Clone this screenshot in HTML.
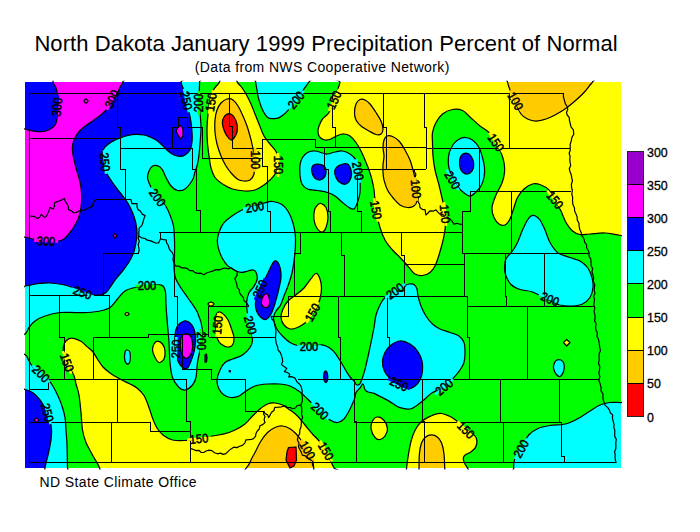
<!DOCTYPE html>
<html><head><meta charset="utf-8"><title>ND Precip</title>
<style>
html,body{margin:0;padding:0;background:#fff;}
body{width:700px;height:532px;overflow:hidden;font-family:"Liberation Sans",sans-serif;}
svg{display:block;}
text{font-family:"Liberation Sans",sans-serif;fill:#000;}
.f path{stroke:none;}
.ct path{fill:none;stroke:#000;stroke-width:1.25;stroke-linejoin:round;}
.ln path{fill:none;stroke:#000;stroke-width:1;stroke-linejoin:miter;}
.wg path{stroke-width:1.2;stroke-linejoin:round;}
.lb text{font-size:12.4px;text-anchor:middle;stroke:#000;stroke-width:0.55px;}
.lg text{font-size:12.4px;stroke:#000;stroke-width:0.3px;}
</style></head><body>
<svg width="700" height="532" viewBox="0 0 700 532">
<defs><clipPath id="mc"><rect x="25" y="82" width="596" height="386"/></clipPath><clipPath id="mc2"><rect x="24" y="80.8" width="598" height="388.6"/></clipPath></defs>
<rect x="0" y="0" width="700" height="532" fill="#ffffff"/>
<text x="34.4" y="51.2" font-size="22" letter-spacing="0.065">North Dakota January 1999 Precipitation Percent of Normal</text>
<text x="194.8" y="71.6" font-size="14" letter-spacing="0.37">(Data from NWS Cooperative Network)</text>
<text x="39.5" y="487" font-size="14" letter-spacing="0.4">ND State Climate Office</text>
<g clip-path="url(#mc)">
<rect x="25" y="82" width="596" height="386" fill="#00ff00"/>
<g class="f">
<path fill="#00ffff" d="M20.0,70.0C51.6,1.7 169.7,68.0 199.6,70.0C229.5,72.0 199.7,76.5 199.6,82.0C199.5,87.5 198.9,98.0 199.0,103.0C199.1,108.0 199.7,107.8 200.0,112.0C200.3,116.2 201.0,122.7 201.0,128.0C201.0,133.3 200.4,139.0 200.0,144.0C199.6,149.0 199.1,154.3 198.6,158.0C198.1,161.7 197.6,163.7 197.0,166.0C196.4,168.3 195.8,169.7 195.0,172.0C194.2,174.3 194.2,177.2 192.5,180.0C190.8,182.8 187.5,187.2 185.0,189.0C182.5,190.8 179.8,191.0 177.5,190.5C175.2,190.0 172.9,188.2 171.0,186.0C169.1,183.8 167.5,180.3 166.0,177.5C164.5,174.7 163.5,171.0 162.0,169.0C160.5,167.0 158.7,166.0 157.0,165.6C155.3,165.2 153.3,165.6 152.0,166.5C150.7,167.4 149.8,169.2 149.0,171.0C148.2,172.8 147.6,175.2 147.5,177.0C147.4,178.8 147.9,179.8 148.7,182.0C149.5,184.2 151.0,187.4 152.5,190.0C154.0,192.6 155.4,195.0 157.5,197.5C159.6,200.0 162.9,202.1 165.0,205.0C167.1,207.9 168.6,211.5 170.0,215.0C171.4,218.5 172.8,221.8 173.5,226.0C174.2,230.2 174.3,235.2 174.5,240.0C174.7,244.8 174.6,250.5 174.5,255.0C174.4,259.5 173.8,263.2 174.0,267.0C174.2,270.8 174.3,274.5 175.5,278.0C176.7,281.5 178.9,284.7 181.0,288.0C183.1,291.3 185.2,293.9 188.0,298.0C190.8,302.1 195.1,307.2 197.5,312.5C199.9,317.8 201.9,324.6 202.5,330.0C203.1,335.4 201.8,339.6 201.0,345.0C200.2,350.4 198.3,357.1 197.5,362.5C196.7,367.9 196.8,373.8 196.0,377.5C195.2,381.2 194.3,382.9 192.5,385.0C190.7,387.1 187.2,389.6 185.0,390.0C182.8,390.4 181.1,389.6 179.0,387.5C176.9,385.4 174.0,381.7 172.5,377.5C171.0,373.3 170.6,368.3 170.0,362.5C169.4,356.7 169.4,348.8 169.0,342.5C168.6,336.2 168.0,331.2 167.5,325.0C167.0,318.8 166.3,310.5 166.0,305.0C165.7,299.5 166.0,295.2 165.5,292.0C165.0,288.8 164.2,287.2 163.0,286.0C161.8,284.8 160.6,284.5 158.0,284.5C155.4,284.5 151.3,285.5 147.5,286.0C143.7,286.5 138.8,286.7 135.0,287.5C131.2,288.3 127.9,289.1 125.0,291.0C122.1,292.9 120.0,296.2 117.5,299.0C115.0,301.8 112.9,305.5 110.0,307.5C107.1,309.5 103.8,310.2 100.0,311.0C96.2,311.8 91.7,312.2 87.5,312.5C83.3,312.8 79.6,312.5 75.0,312.5C70.4,312.5 65.0,311.9 60.0,312.5C55.0,313.1 49.2,314.6 45.0,316.0C40.8,317.4 37.7,319.1 35.0,321.0C32.3,322.9 30.7,325.3 29.0,327.5C27.3,329.7 27.8,331.9 25.0,334.0C22.2,336.1 14.2,337.3 12.0,340.0C9.8,342.7 9.8,347.6 12.0,350.0C14.2,352.4 22.2,352.8 25.0,354.5C27.8,356.2 27.2,357.9 28.5,360.0C29.8,362.1 30.9,364.7 33.0,367.0C35.1,369.3 38.3,371.4 41.0,373.7C43.7,375.9 46.9,378.2 49.0,380.5C51.1,382.8 52.1,384.7 53.7,387.5C55.3,390.3 57.2,394.2 58.7,397.5C60.2,400.8 61.5,404.2 62.5,407.5C63.5,410.8 64.4,413.8 65.0,417.5C65.6,421.2 65.7,425.4 66.0,430.0C66.3,434.6 66.8,438.8 67.0,445.0C67.2,451.2 67.4,461.7 67.5,467.5C67.6,473.3 77.1,477.9 67.5,480.0C57.9,482.1 17.9,548.3 10.0,480.0C2.1,411.7 -11.6,138.3 20.0,70.0Z"/>
<path fill="#00ffff" d="M255.0,70.0C244.9,72.0 255.4,78.8 255.7,82.0C256.0,85.2 256.5,87.0 256.9,89.4C257.3,91.8 257.4,93.8 258.0,96.3C258.6,98.8 259.4,101.6 260.3,104.3C261.2,107.0 262.5,110.1 263.7,112.3C264.9,114.5 266.2,116.4 267.7,117.4C269.2,118.5 271.2,118.5 272.9,118.6C274.6,118.7 276.3,118.8 278.0,118.2C279.7,117.6 281.3,116.6 283.1,115.1C284.9,113.6 286.8,111.9 288.9,109.4C291.0,106.9 293.5,103.3 296.0,100.0C298.5,96.7 301.6,92.4 303.7,89.4C305.8,86.4 306.8,85.2 308.9,82.0C310.9,78.8 325.0,72.0 316.0,70.0C307.0,68.0 265.1,68.0 255.0,70.0Z"/>
<path fill="#00ffff" d="M300.0,165.0C300.4,162.1 301.2,159.6 302.5,157.5C303.8,155.4 305.4,153.6 307.5,152.5C309.6,151.4 312.5,150.9 315.0,151.0C317.5,151.1 320.4,152.5 322.5,153.0C324.6,153.5 325.4,154.2 327.5,154.0C329.6,153.8 332.5,152.5 335.0,152.0C337.5,151.5 340.0,150.7 342.5,151.0C345.0,151.3 347.8,152.5 350.0,154.0C352.2,155.5 354.5,157.2 356.0,160.0C357.5,162.8 358.3,167.7 359.0,171.0C359.7,174.3 359.8,176.4 360.0,180.0C360.2,183.6 360.4,188.8 360.0,192.5C359.6,196.2 358.5,199.8 357.5,202.5C356.5,205.2 355.4,208.2 354.0,209.0C352.6,209.8 350.9,208.6 349.0,207.5C347.1,206.4 344.8,204.4 342.5,202.5C340.2,200.6 337.5,197.7 335.0,196.0C332.5,194.3 330.4,193.4 327.5,192.5C324.6,191.6 320.8,191.1 317.5,190.5C314.2,189.9 310.1,190.1 307.5,189.0C304.9,187.9 303.2,186.3 302.0,184.0C300.8,181.7 300.3,178.2 300.0,175.0C299.7,171.8 299.6,167.9 300.0,165.0Z"/>
<path fill="#00ffff" d="M465.0,137.5C467.3,137.6 470.2,138.3 472.5,140.0C474.8,141.7 477.3,144.6 479.0,147.5C480.7,150.4 481.6,154.2 482.5,157.5C483.4,160.8 484.2,164.2 484.5,167.5C484.8,170.8 484.6,174.4 484.0,177.5C483.4,180.6 482.3,183.6 481.0,186.0C479.7,188.4 477.8,190.3 476.0,192.0C474.2,193.7 472.2,196.0 470.0,196.0C467.8,196.0 465.2,193.7 463.0,192.0C460.8,190.3 458.6,188.0 457.0,186.0C455.4,184.0 454.8,182.7 453.5,180.0C452.2,177.3 450.4,172.9 449.5,170.0C448.6,167.1 448.3,165.4 448.3,162.5C448.3,159.6 448.4,155.6 449.3,152.5C450.2,149.4 452.0,146.2 453.5,144.0C455.0,141.8 456.6,140.6 458.5,139.5C460.4,138.4 462.7,137.4 465.0,137.5Z"/>
<path fill="#00ffff" d="M272.5,201.5C275.5,201.8 279.3,202.8 282.0,204.5C284.7,206.2 286.7,208.9 288.5,212.0C290.3,215.1 291.9,219.2 293.0,223.0C294.1,226.8 294.9,230.8 295.3,235.0C295.7,239.2 295.5,243.7 295.3,248.0C295.1,252.3 294.6,256.8 294.0,261.0C293.4,265.2 292.9,269.1 292.0,273.0C291.1,276.9 289.8,280.7 288.5,284.5C287.2,288.3 285.3,292.6 284.0,296.0C282.7,299.4 281.9,302.5 280.6,305.0C279.3,307.5 277.2,309.0 276.0,311.0C274.8,313.0 273.8,314.9 273.5,317.0C273.2,319.1 273.8,321.3 274.5,323.5C275.2,325.7 276.2,327.9 277.5,330.0C278.8,332.1 280.4,333.9 282.5,336.0C284.6,338.1 287.5,340.9 290.0,342.5C292.5,344.1 294.3,344.8 297.5,345.5C300.7,346.2 305.2,346.6 309.0,346.5C312.8,346.4 317.2,345.1 320.0,345.0C322.8,344.9 324.0,345.2 326.0,346.0C328.0,346.8 330.2,348.3 332.0,349.8C333.8,351.3 335.0,353.0 336.5,355.0C338.0,357.0 339.5,359.5 341.0,362.0C342.5,364.5 344.0,367.5 345.5,370.0C347.0,372.5 348.6,375.2 350.0,377.0C351.4,378.8 353.0,379.8 354.0,381.0C355.0,382.2 355.3,383.7 356.0,384.4C356.7,385.1 357.3,385.1 358.0,385.0C358.7,384.9 359.3,384.6 360.0,383.6C360.7,382.6 361.3,381.0 362.0,379.0C362.7,377.0 363.6,374.4 364.4,371.6C365.2,368.9 365.8,365.8 366.6,362.5C367.4,359.2 368.3,355.3 369.0,352.0C369.7,348.7 370.2,346.6 371.0,342.5C371.8,338.4 373.2,332.1 374.0,327.5C374.8,322.9 375.0,318.8 376.0,315.0C377.0,311.2 378.5,307.9 380.0,305.0C381.5,302.1 382.5,299.8 385.0,297.5C387.5,295.2 392.0,292.6 395.0,291.5C398.0,290.4 401.3,291.9 403.0,291.0C404.7,290.1 404.0,287.2 405.0,286.0C406.0,284.8 407.5,284.2 409.0,284.0C410.5,283.8 412.7,283.7 414.0,284.5C415.3,285.3 416.3,287.1 417.0,289.0C417.7,290.9 417.3,293.2 418.0,296.0C418.7,298.8 419.7,302.7 421.0,306.0C422.3,309.3 424.1,313.0 426.0,316.0C427.9,319.0 430.2,321.8 432.5,324.0C434.8,326.2 437.1,327.6 440.0,329.0C442.9,330.4 446.8,331.3 450.0,332.5C453.2,333.7 456.7,334.3 459.0,336.0C461.3,337.7 463.0,339.8 464.0,342.5C465.0,345.2 465.0,349.2 465.0,352.5C465.0,355.8 464.8,359.6 464.0,362.5C463.2,365.4 461.9,367.2 460.0,370.0C458.1,372.8 455.2,376.1 452.5,379.0C449.8,381.9 447.3,385.2 444.0,387.5C440.7,389.8 435.7,390.6 432.5,392.5C429.3,394.4 427.5,396.9 425.0,399.0C422.5,401.1 420.0,403.3 417.5,405.0C415.0,406.7 412.9,408.6 410.0,409.0C407.1,409.4 403.0,408.7 400.0,407.7C397.0,406.7 394.3,404.4 392.0,403.0C389.7,401.6 388.0,400.5 386.0,399.4C384.0,398.3 382.0,397.4 380.0,396.4C378.0,395.4 376.0,394.1 374.0,393.4C372.0,392.7 369.5,392.6 368.0,392.0C366.5,391.4 365.8,390.9 365.0,389.6C364.2,388.3 363.8,384.3 363.0,384.0C362.2,383.7 361.2,386.6 360.0,388.0C358.8,389.4 356.9,390.8 356.0,392.6C355.1,394.4 355.3,396.6 354.6,398.6C353.9,400.6 353.0,402.5 352.0,404.7C351.0,406.9 349.8,409.6 348.5,412.0C347.2,414.4 345.8,417.2 344.0,419.0C342.2,420.8 339.8,422.3 337.5,422.5C335.2,422.7 332.9,421.9 330.0,420.0C327.1,418.1 323.8,414.5 320.0,411.0C316.2,407.5 310.8,402.2 307.5,399.0C304.2,395.8 302.9,394.2 300.0,392.0C297.1,389.8 293.3,387.3 290.0,386.0C286.7,384.7 283.8,384.3 280.0,384.0C276.2,383.7 271.7,383.7 267.5,384.0C263.3,384.3 258.6,384.8 255.0,386.0C251.4,387.2 248.7,389.3 246.0,391.0C243.3,392.7 241.5,394.9 239.0,396.0C236.5,397.1 233.5,397.7 231.0,397.5C228.5,397.3 226.0,396.4 224.0,395.0C222.0,393.6 220.2,391.5 219.0,389.0C217.8,386.5 216.8,383.2 217.0,380.0C217.2,376.8 218.7,372.9 220.0,370.0C221.3,367.1 222.9,364.3 225.0,362.5C227.1,360.7 229.6,360.2 232.5,359.0C235.4,357.8 239.6,356.9 242.5,355.0C245.4,353.1 248.3,350.0 250.0,347.5C251.7,345.0 252.5,343.8 252.5,340.0C252.5,336.2 250.9,330.0 250.0,325.0C249.1,320.0 247.5,314.1 247.0,310.0C246.5,305.9 246.5,303.5 246.8,300.6C247.1,297.7 247.9,295.0 249.0,292.7C250.1,290.4 252.2,289.1 253.5,287.0C254.8,284.9 256.5,282.2 257.0,280.0C257.5,277.8 257.1,275.2 256.5,273.5C255.9,271.8 254.9,270.4 253.5,270.0C252.1,269.6 250.1,270.6 248.0,271.0C245.9,271.4 243.3,272.6 241.0,272.4C238.7,272.2 236.5,271.1 234.3,270.0C232.1,268.9 229.7,267.7 227.6,265.6C225.5,263.6 223.5,260.5 222.0,257.7C220.5,254.9 219.3,251.7 218.5,248.7C217.7,245.7 217.2,242.7 217.4,239.7C217.6,236.7 218.6,233.4 219.7,230.6C220.8,227.8 221.9,225.1 224.0,222.7C226.1,220.3 229.0,218.1 232.0,216.0C235.0,213.9 238.2,211.7 242.0,210.0C245.8,208.3 251.0,207.2 254.7,206.0C258.4,204.8 261.0,203.8 264.0,203.0C267.0,202.2 269.5,201.2 272.5,201.5Z"/>
<path fill="#00ffff" d="M535.0,215.7C536.5,216.4 538.3,217.6 540.0,220.0C541.7,222.4 543.3,226.2 545.0,230.0C546.7,233.8 547.9,238.8 550.0,242.5C552.1,246.2 554.2,250.0 557.5,252.5C560.8,255.0 566.2,256.1 570.0,257.5C573.8,258.9 577.1,259.3 580.0,261.0C582.9,262.7 585.5,264.8 587.5,267.5C589.5,270.2 591.1,274.2 592.0,277.5C592.9,280.8 593.3,284.2 593.0,287.5C592.7,290.8 591.8,294.8 590.0,297.5C588.2,300.2 585.4,302.6 582.5,304.0C579.6,305.4 576.2,305.8 572.5,306.0C568.8,306.2 563.9,306.0 560.0,305.0C556.1,304.0 553.6,302.2 549.0,300.0C544.4,297.8 537.3,293.8 532.5,292.0C527.7,290.2 523.6,290.8 520.0,289.5C516.4,288.2 513.3,286.8 511.0,284.5C508.7,282.2 507.1,278.8 506.0,276.0C504.9,273.2 504.5,270.4 504.5,267.5C504.5,264.6 504.7,261.4 506.0,258.7C507.3,255.9 510.6,253.7 512.5,251.0C514.4,248.3 515.8,246.0 517.5,242.5C519.2,239.0 520.8,233.8 522.5,230.0C524.2,226.2 526.1,222.3 527.5,220.0C528.9,217.7 529.8,216.7 531.0,216.0C532.2,215.3 533.5,215.0 535.0,215.7Z"/>
<path fill="#00ffff" d="M513.7,480.0C493.5,478.1 513.6,472.0 513.7,468.7C513.8,465.4 513.3,463.3 514.5,460.0C515.7,456.7 518.6,452.9 521.0,448.7C523.4,444.5 526.0,438.3 528.7,435.0C531.5,431.7 534.0,430.3 537.5,428.7C541.0,427.1 545.8,426.2 550.0,425.5C554.2,424.8 559.2,425.0 562.5,424.5C565.8,424.0 567.1,423.7 570.0,422.5C572.9,421.3 576.7,419.4 580.0,417.5C583.3,415.6 586.7,413.1 590.0,411.0C593.3,408.9 596.7,406.4 600.0,405.0C603.3,403.6 606.5,402.9 610.0,402.5C613.5,402.1 616.8,402.5 621.0,402.5C625.2,402.5 632.7,389.6 635.0,402.5C637.3,415.4 655.2,467.1 635.0,480.0C614.8,492.9 533.9,481.9 513.7,480.0Z"/>
<path fill="#00ffff" d="M553.7,365.0C554.1,363.6 554.8,361.3 556.0,360.5C557.2,359.7 559.7,359.4 561.0,360.0C562.3,360.6 563.5,362.2 564.0,364.0C564.5,365.8 564.4,368.9 563.7,371.0C563.0,373.1 561.3,376.0 560.0,376.5C558.7,377.0 557.0,375.2 556.0,374.0C555.0,372.8 554.1,370.5 553.7,369.0C553.3,367.5 553.3,366.4 553.7,365.0Z"/>
<path fill="#00ffff" d="M125.0,352.0C125.4,350.2 126.7,349.9 127.5,350.0C128.3,350.1 129.6,350.7 130.0,352.5C130.4,354.3 130.3,359.1 130.0,361.0C129.7,362.9 128.8,364.0 128.0,364.0C127.2,364.0 125.5,363.0 125.0,361.0C124.5,359.0 124.6,353.8 125.0,352.0Z"/>
<path fill="#0000ff" d="M15.0,70.0C43.2,33.7 153.3,68.0 181.0,70.0C208.7,72.0 180.7,79.0 181.0,82.0C181.3,85.0 182.0,85.0 183.0,88.0C184.0,91.0 186.0,96.0 187.0,100.0C188.0,104.0 188.3,108.3 189.0,112.0C189.7,115.7 190.5,118.7 191.0,122.0C191.5,125.3 191.8,128.7 192.0,132.0C192.2,135.3 192.3,139.0 192.0,142.0C191.7,145.0 191.2,147.8 190.0,150.0C188.8,152.2 186.7,153.9 185.0,155.0C183.3,156.1 181.8,156.4 180.0,156.4C178.2,156.4 176.0,155.9 174.0,155.0C172.0,154.1 170.0,152.7 168.0,151.0C166.0,149.3 164.0,146.8 162.0,145.0C160.0,143.2 158.0,141.3 156.0,140.0C154.0,138.7 152.0,137.8 150.0,137.0C148.0,136.2 146.3,135.4 144.0,135.0C141.7,134.6 138.7,134.3 136.0,134.4C133.3,134.5 130.7,134.8 128.0,135.4C125.3,136.0 122.7,137.0 120.0,138.0C117.3,139.0 114.3,140.3 112.0,141.6C109.7,142.9 107.5,144.4 106.0,146.0C104.5,147.6 103.4,148.3 103.0,151.0C102.6,153.7 103.0,158.5 103.5,162.0C104.0,165.5 104.5,168.6 106.0,172.0C107.5,175.4 110.2,179.1 112.5,182.5C114.8,185.9 117.5,189.2 120.0,192.5C122.5,195.8 125.4,199.2 127.5,202.5C129.6,205.8 131.1,209.2 132.5,212.5C133.9,215.8 134.9,219.2 135.7,222.5C136.4,225.8 136.9,229.2 137.0,232.5C137.1,235.8 136.6,239.2 136.0,242.5C135.4,245.8 134.9,249.2 133.7,252.5C132.5,255.8 130.6,259.4 128.7,262.5C126.8,265.6 124.8,268.1 122.5,271.0C120.2,273.9 117.1,277.2 115.0,280.0C112.9,282.8 111.5,285.4 110.0,287.5C108.5,289.6 107.7,291.2 106.0,292.5C104.3,293.8 102.3,294.7 100.0,295.0C97.7,295.3 94.9,295.0 92.0,294.5C89.1,294.0 85.8,293.2 82.5,292.0C79.2,290.8 75.8,288.8 72.5,287.5C69.2,286.2 66.2,285.2 62.5,284.5C58.8,283.8 54.2,283.1 50.0,283.0C45.8,282.9 41.7,283.2 37.5,283.7C33.3,284.2 29.2,285.3 25.0,286.0C20.8,286.7 13.7,324.0 12.0,288.0C10.3,252.0 -13.2,106.3 15.0,70.0Z"/>
<path fill="#0000ff" d="M12.0,388.0C14.2,372.9 21.6,388.8 25.0,389.5C28.4,390.2 30.0,390.8 32.5,392.5C35.0,394.2 37.8,397.1 40.0,400.0C42.2,402.9 44.3,406.7 46.0,410.0C47.7,413.3 49.1,416.7 50.0,420.0C50.9,423.3 51.3,426.7 51.5,430.0C51.7,433.3 51.5,436.3 51.0,440.0C50.5,443.7 49.7,447.4 48.7,452.0C47.7,456.6 46.0,462.8 45.0,467.5C44.0,472.2 48.5,477.9 43.0,480.0C37.5,482.1 17.2,495.3 12.0,480.0C6.8,464.7 9.8,403.1 12.0,388.0Z"/>
<path fill="#0000ff" d="M312.5,166.0C313.4,164.6 315.6,164.0 317.5,164.0C319.4,164.0 322.6,164.6 324.0,166.0C325.4,167.4 326.2,170.3 326.0,172.5C325.8,174.7 324.2,177.9 322.5,179.0C320.8,180.1 317.8,180.1 316.0,179.0C314.2,177.9 312.6,174.7 312.0,172.5C311.4,170.3 311.6,167.4 312.5,166.0Z"/>
<path fill="#0000ff" d="M335.0,170.0C335.7,167.9 337.9,166.0 340.0,165.0C342.1,164.0 345.7,163.2 347.5,164.0C349.3,164.8 350.4,167.8 351.0,170.0C351.6,172.2 351.8,175.2 351.0,177.5C350.2,179.8 347.8,183.2 346.0,184.0C344.2,184.8 341.7,183.6 340.0,182.5C338.3,181.4 336.8,179.6 336.0,177.5C335.2,175.4 334.3,172.1 335.0,170.0Z"/>
<path fill="#0000ff" d="M461.0,156.0C462.1,154.4 464.3,153.0 466.0,153.0C467.7,153.0 469.7,154.2 471.0,156.0C472.3,157.8 473.5,161.5 473.7,164.0C473.9,166.5 473.3,169.3 472.0,171.0C470.7,172.7 467.8,174.2 466.0,174.0C464.2,173.8 462.1,171.9 461.0,170.0C459.9,168.1 459.5,164.8 459.5,162.5C459.5,160.2 459.9,157.6 461.0,156.0Z"/>
<path fill="#0000ff" d="M274.0,261.5C275.2,260.4 276.4,260.8 277.5,262.0C278.6,263.2 279.7,265.9 280.3,268.5C280.9,271.1 281.2,274.2 281.0,277.5C280.8,280.8 279.7,284.8 279.0,288.0C278.3,291.2 277.6,294.1 276.8,297.0C276.0,299.9 275.3,302.7 274.3,305.5C273.3,308.3 272.4,311.7 271.0,314.0C269.6,316.3 267.7,318.9 266.0,319.5C264.3,320.1 262.6,318.9 261.0,317.5C259.4,316.1 257.4,313.4 256.5,311.0C255.6,308.6 255.3,305.8 255.5,303.0C255.7,300.2 256.6,296.8 257.5,294.0C258.4,291.2 259.6,288.8 261.0,286.0C262.4,283.2 264.5,279.9 266.0,277.0C267.5,274.1 268.7,271.1 270.0,268.5C271.3,265.9 272.8,262.6 274.0,261.5Z"/>
<path fill="#0000ff" d="M184.0,321.0C182.0,321.6 179.0,323.7 177.5,326.0C176.0,328.3 175.4,331.4 175.0,335.0C174.6,338.6 174.6,343.3 175.0,347.5C175.4,351.7 176.2,356.7 177.5,360.0C178.8,363.3 180.8,366.2 182.5,367.5C184.2,368.8 186.1,369.1 187.5,368.0C188.9,366.9 189.8,364.0 191.0,361.0C192.2,358.0 193.8,353.7 194.5,350.0C195.2,346.3 195.6,342.5 195.5,339.0C195.4,335.5 195.0,331.8 194.0,329.0C193.0,326.2 191.2,323.8 189.5,322.5C187.8,321.2 186.0,320.4 184.0,321.0Z"/>
<path fill="#0000ff" d="M324.0,373.0C324.3,371.5 325.4,370.8 326.0,371.0C326.6,371.2 327.2,372.5 327.5,374.0C327.8,375.5 327.8,378.6 327.5,380.0C327.2,381.4 326.6,382.5 326.0,382.5C325.4,382.5 324.3,381.6 324.0,380.0C323.7,378.4 323.7,374.5 324.0,373.0Z"/>
<path fill="#0000ff" d="M400.0,341.0C403.2,340.8 407.1,342.3 410.0,344.0C412.9,345.7 415.5,348.2 417.5,351.0C419.5,353.8 421.2,357.7 422.0,361.0C422.8,364.3 422.8,367.8 422.5,371.0C422.2,374.2 421.2,377.5 420.0,380.0C418.8,382.5 416.8,384.6 415.0,386.0C413.2,387.4 411.7,388.7 409.0,388.5C406.3,388.3 402.3,386.8 399.0,385.0C395.7,383.2 391.5,380.0 389.0,377.5C386.5,375.0 385.1,372.8 384.0,370.0C382.9,367.2 382.3,363.9 382.5,361.0C382.7,358.1 383.6,355.2 385.0,352.5C386.4,349.8 388.5,346.9 391.0,345.0C393.5,343.1 396.8,341.2 400.0,341.0Z"/>
<path fill="#ff00ff" d="M12.0,70.0C30.5,42.5 104.5,68.1 123.0,70.0C141.5,71.9 123.5,78.8 123.0,81.6C122.5,84.4 120.8,85.3 120.0,87.0C119.2,88.7 119.3,89.7 118.0,92.0C116.7,94.3 113.7,98.3 112.0,101.0C110.3,103.7 109.7,105.8 108.0,108.0C106.3,110.2 104.3,112.0 102.0,114.0C99.7,116.0 97.0,117.8 94.0,120.0C91.0,122.2 86.7,124.8 84.0,127.0C81.3,129.2 79.7,130.8 78.0,133.0C76.3,135.2 74.9,137.5 74.0,140.0C73.1,142.5 72.5,145.0 72.4,148.0C72.3,151.0 73.0,154.7 73.6,158.0C74.2,161.3 74.9,164.0 76.0,168.0C77.1,172.0 79.0,177.5 80.0,182.0C81.0,186.5 81.5,190.8 81.7,195.0C81.9,199.2 81.5,203.8 81.0,207.5C80.5,211.2 79.7,214.6 78.7,217.5C77.7,220.4 76.5,222.5 75.0,225.0C73.5,227.5 71.8,230.2 70.0,232.5C68.2,234.8 65.8,237.6 64.0,239.0C62.2,240.4 62.0,240.6 59.0,241.0C56.0,241.4 50.4,241.8 46.0,241.5C41.6,241.2 36.0,239.8 32.5,239.0C29.0,238.2 28.4,237.7 25.0,237.0C21.6,236.3 14.2,262.8 12.0,235.0C9.8,207.2 -6.5,97.5 12.0,70.0Z"/>
<path fill="#0000ff" d="M12.0,70.0C18.8,60.5 46.2,68.1 53.0,70.0C59.8,71.9 52.5,78.6 53.0,81.6C53.5,84.6 55.2,85.6 56.0,88.0C56.8,90.4 57.4,92.3 57.6,96.0C57.9,99.7 57.7,105.8 57.5,110.0C57.3,114.2 57.0,118.5 56.6,121.0C56.2,123.5 55.8,123.8 55.0,125.0C54.2,126.2 53.5,127.0 52.0,128.0C50.5,129.0 48.3,130.4 46.0,131.0C43.7,131.6 40.7,131.7 38.0,131.6C35.3,131.5 32.2,130.8 30.0,130.4C27.8,130.0 28.0,129.6 25.0,129.0C22.0,128.4 14.2,136.8 12.0,127.0C9.8,117.2 5.2,79.5 12.0,70.0Z"/>
<path fill="#ff00ff" d="M181.0,125.5 L183.0,129.0 L183.0,136.0 L180.5,139.0 L178.0,135.0 L176.0,131.0 L178.0,127.5Z"/>
<path fill="#ff00ff" d="M264.0,295.0C264.9,294.2 266.6,293.2 267.5,294.0C268.4,294.8 269.2,298.0 269.5,300.0C269.8,302.0 269.8,304.8 269.0,306.0C268.2,307.2 266.2,307.8 265.0,307.5C263.8,307.2 262.0,305.4 261.5,304.0C261.0,302.6 261.6,300.5 262.0,299.0C262.4,297.5 263.1,295.8 264.0,295.0Z"/>
<path fill="#ff00ff" d="M184.0,334.0C185.5,333.6 188.6,334.0 190.0,335.5C191.4,337.0 192.2,340.4 192.5,343.0C192.8,345.6 192.6,348.7 192.0,351.0C191.4,353.3 190.2,355.8 189.0,357.0C187.8,358.2 186.2,358.7 185.0,358.0C183.8,357.3 182.3,355.2 181.5,353.0C180.7,350.8 180.4,347.5 180.3,345.0C180.2,342.5 180.4,339.8 181.0,338.0C181.6,336.2 182.5,334.4 184.0,334.0Z"/>
<path fill="#ff00ff" d="M84.0,101.0C84.0,100.3 85.3,99.0 86.0,99.0C86.7,99.0 88.0,100.3 88.0,101.0C88.0,101.7 86.7,103.0 86.0,103.0C85.3,103.0 84.0,101.7 84.0,101.0Z"/>
<path fill="#ff00ff" d="M113.0,235.7 L115.0,233.5 L117.0,235.7 L115.0,238.0Z"/>
<path fill="#ff00ff" d="M34.5,420.0C34.5,419.3 35.8,418.0 36.5,418.0C37.2,418.0 38.5,419.3 38.5,420.0C38.5,420.7 37.2,422.0 36.5,422.0C35.8,422.0 34.5,420.7 34.5,420.0Z"/>
<path fill="#ffff00" d="M71.4,338.0C73.9,338.0 77.9,339.6 80.5,341.0C83.1,342.4 84.9,344.8 87.0,346.6C89.1,348.4 91.3,349.9 93.0,352.0C94.7,354.1 95.7,356.5 97.4,359.0C99.1,361.5 100.9,364.7 103.0,367.0C105.1,369.3 107.2,371.0 110.0,373.0C112.8,375.0 116.7,377.2 120.0,379.0C123.3,380.8 127.2,382.5 130.0,384.0C132.8,385.5 134.7,386.1 137.0,388.0C139.3,389.9 142.0,392.2 144.0,395.5C146.0,398.8 147.6,403.8 149.0,407.5C150.4,411.2 151.2,414.6 152.5,418.0C153.8,421.4 155.2,425.2 157.0,428.0C158.8,430.8 160.4,433.0 163.0,435.0C165.6,437.0 168.8,439.1 172.5,440.0C176.2,440.9 180.6,440.7 185.0,440.5C189.4,440.3 194.4,439.4 199.0,438.7C203.6,437.9 208.2,436.8 212.5,436.0C216.8,435.2 221.2,434.7 225.0,433.7C228.8,432.7 231.7,431.6 235.0,430.0C238.3,428.4 242.1,426.3 245.0,424.0C247.9,421.7 250.0,418.5 252.5,416.0C255.0,413.5 257.5,411.0 260.0,409.0C262.5,407.0 265.0,405.0 267.5,404.0C270.0,403.0 272.5,402.8 275.0,403.0C277.5,403.2 280.0,403.8 282.5,405.0C285.0,406.2 287.5,408.2 290.0,410.0C292.5,411.8 295.0,413.5 297.5,416.0C300.0,418.5 302.5,422.0 305.0,425.0C307.5,428.0 310.0,431.2 312.5,434.0C315.0,436.8 317.8,439.2 320.0,442.0C322.2,444.8 324.3,448.0 326.0,451.0C327.7,454.0 328.7,457.2 330.0,460.0C331.3,462.8 332.7,464.7 334.0,468.0C335.3,471.3 377.0,478.0 338.0,480.0C299.0,482.0 139.7,481.8 100.0,480.0C60.3,478.2 101.2,473.2 100.0,469.0C98.8,464.8 94.8,459.4 92.5,455.0C90.2,450.6 87.7,446.7 86.0,442.5C84.3,438.3 83.3,435.0 82.5,430.0C81.7,425.0 81.6,418.3 81.0,412.5C80.4,406.7 79.8,399.8 79.0,395.0C78.2,390.2 76.9,387.3 76.0,384.0C75.1,380.7 75.2,378.6 73.7,375.0C72.2,371.4 68.7,366.2 67.0,362.4C65.3,358.6 64.1,354.6 63.5,352.0C62.9,349.4 63.1,348.4 63.5,346.6C63.9,344.8 64.5,342.4 65.8,341.0C67.1,339.6 69.0,338.0 71.4,338.0Z"/>
<path fill="#ffff00" d="M406.0,480.0C395.1,478.2 406.1,473.3 406.5,469.0C406.9,464.7 407.7,458.7 408.5,454.0C409.3,449.3 410.1,444.6 411.2,440.6C412.3,436.6 413.7,432.9 415.3,429.8C416.9,426.8 418.7,424.3 420.7,422.3C422.7,420.3 425.2,418.9 427.5,417.6C429.8,416.3 431.8,415.3 434.2,414.6C436.6,413.9 439.2,413.3 441.7,413.5C444.2,413.7 446.7,414.9 449.1,416.0C451.5,417.1 453.1,418.1 455.9,420.3C458.7,422.5 462.9,426.4 466.0,429.0C469.1,431.6 473.0,434.0 474.8,435.9C476.6,437.8 476.8,438.7 476.9,440.6C477.0,442.5 476.5,445.5 475.5,447.4C474.5,449.3 472.5,450.8 470.8,452.0C469.1,453.2 466.6,453.8 465.4,454.8C464.1,455.8 463.4,456.7 463.3,458.2C463.2,459.7 463.9,461.8 464.7,463.6C465.5,465.4 466.8,466.3 468.0,469.0C469.2,471.7 482.3,478.2 472.0,480.0C461.7,481.8 416.9,481.8 406.0,480.0Z"/>
<path fill="#ffff00" d="M377.0,417.0C378.9,416.8 381.9,418.1 383.7,420.0C385.4,421.9 387.3,426.0 387.5,428.7C387.7,431.4 386.2,434.2 385.0,436.0C383.8,437.8 381.7,439.2 380.0,439.5C378.3,439.8 376.5,439.3 375.0,437.5C373.5,435.7 371.4,431.4 371.0,428.7C370.6,425.9 371.5,422.9 372.5,421.0C373.5,419.1 375.1,417.2 377.0,417.0Z"/>
<path fill="#ffff00" d="M316.0,273.5C317.7,273.3 319.1,276.6 320.0,279.0C320.9,281.4 321.5,284.7 321.5,288.0C321.5,291.3 320.9,295.5 320.0,299.0C319.1,302.5 317.7,305.8 316.0,309.0C314.3,312.2 311.8,315.7 310.0,318.0C308.2,320.3 307.1,321.4 305.0,323.0C302.9,324.6 300.0,326.5 297.5,327.5C295.0,328.5 292.2,329.4 290.0,329.0C287.8,328.6 285.5,326.9 284.0,325.0C282.5,323.1 281.2,320.2 281.0,317.5C280.8,314.8 281.8,311.8 283.0,309.0C284.2,306.2 285.7,303.5 288.0,301.0C290.3,298.5 294.3,296.2 297.0,294.0C299.7,291.8 301.8,290.3 304.0,288.0C306.2,285.7 308.0,282.4 310.0,280.0C312.0,277.6 314.3,273.7 316.0,273.5Z"/>
<path fill="#ffff00" d="M224.0,70.0C221.8,72.0 220.9,79.2 219.5,82.0C218.1,84.8 216.7,85.4 215.5,87.0C214.3,88.6 213.4,89.3 212.5,91.5C211.6,93.7 210.8,96.2 210.0,100.0C209.2,103.8 208.5,109.3 208.0,114.0C207.5,118.7 207.1,123.3 207.0,128.0C206.9,132.7 207.1,137.3 207.4,142.0C207.7,146.7 208.4,151.7 209.0,156.0C209.6,160.3 210.0,164.4 211.0,168.0C212.0,171.6 213.1,174.8 215.0,177.5C216.9,180.2 219.6,182.1 222.5,184.0C225.4,185.9 228.8,187.8 232.5,189.0C236.2,190.2 241.2,190.8 245.0,191.0C248.8,191.2 252.1,190.8 255.0,190.0C257.9,189.2 260.0,187.7 262.5,186.0C265.0,184.3 267.9,182.0 270.0,180.0C272.1,178.0 273.7,176.5 275.0,174.0C276.3,171.5 277.5,168.0 278.0,165.0C278.5,162.0 278.5,158.5 278.0,156.0C277.5,153.5 276.3,152.0 275.0,150.0C273.7,148.0 271.8,146.3 270.0,144.0C268.2,141.7 265.8,139.3 264.0,136.0C262.2,132.7 260.5,127.7 259.0,124.0C257.5,120.3 256.3,117.3 255.0,114.0C253.7,110.7 252.5,107.3 251.0,104.0C249.5,100.7 247.6,96.8 246.0,94.0C244.4,91.2 243.0,89.1 241.5,87.0C240.0,84.9 238.4,84.4 237.0,81.6C235.6,78.8 235.2,71.9 233.0,70.0C230.8,68.1 226.2,68.0 224.0,70.0Z"/>
<path fill="#ffff00" d="M340.5,70.0C290.5,72.0 340.5,78.7 340.0,82.0C339.5,85.3 338.5,87.0 337.5,90.0C336.5,93.0 335.4,96.2 334.0,100.0C332.6,103.8 330.9,109.3 329.0,112.5C327.1,115.7 324.2,116.8 322.5,119.0C320.8,121.2 319.8,123.8 319.0,126.0C318.2,128.2 317.8,130.6 318.0,132.5C318.2,134.4 318.8,136.2 320.0,137.5C321.2,138.8 323.2,139.8 325.0,140.0C326.8,140.2 328.9,139.8 331.0,139.0C333.1,138.2 335.3,136.3 337.5,135.5C339.7,134.7 341.9,133.9 344.0,134.0C346.1,134.1 348.0,134.6 350.0,136.0C352.0,137.4 354.2,140.0 356.0,142.5C357.8,145.0 359.5,148.1 361.0,151.0C362.5,153.9 363.7,156.8 365.0,160.0C366.3,163.2 367.8,166.7 369.0,170.0C370.2,173.3 371.2,176.7 372.0,180.0C372.8,183.3 373.3,185.0 374.0,190.0C374.7,195.0 375.0,203.8 376.0,210.0C377.0,216.2 378.5,222.5 380.0,227.5C381.5,232.5 382.9,236.2 385.0,240.0C387.1,243.8 390.0,247.1 392.5,250.0C395.0,252.9 397.8,255.2 400.0,257.5C402.2,259.8 404.2,261.9 406.0,264.0C407.8,266.1 409.5,268.3 411.0,270.0C412.5,271.7 413.1,273.1 415.0,274.0C416.9,274.9 420.0,275.8 422.5,275.5C425.0,275.2 427.9,274.1 430.0,272.5C432.1,270.9 433.5,268.9 435.0,266.0C436.5,263.1 437.8,258.9 439.0,255.0C440.2,251.1 441.5,246.7 442.5,242.5C443.5,238.3 444.5,233.8 445.0,230.0C445.5,226.2 445.5,223.3 445.5,220.0C445.5,216.7 445.5,213.3 445.0,210.0C444.5,206.7 443.5,204.2 442.5,200.0C441.5,195.8 440.2,190.0 439.0,185.0C437.8,180.0 436.0,174.8 435.0,170.0C434.0,165.2 433.4,160.6 433.0,156.0C432.6,151.4 432.6,146.4 432.5,142.5C432.4,138.6 431.9,135.8 432.5,132.5C433.1,129.2 434.3,125.6 436.0,122.5C437.7,119.4 439.8,116.2 442.5,114.0C445.2,111.8 449.2,110.1 452.5,109.5C455.8,108.9 459.6,109.2 462.5,110.5C465.4,111.8 467.1,114.4 470.0,117.0C472.9,119.6 476.8,123.4 480.0,126.0C483.2,128.6 486.3,129.8 489.0,132.5C491.7,135.2 494.0,139.2 496.0,142.5C498.0,145.8 499.7,149.2 501.0,152.5C502.3,155.8 503.4,159.2 504.0,162.5C504.6,165.8 504.8,169.1 504.5,172.5C504.2,175.9 503.4,179.2 502.0,183.0C500.6,186.8 497.7,190.9 496.0,195.0C494.3,199.1 492.3,203.8 492.0,207.5C491.7,211.2 492.8,214.8 494.0,217.5C495.2,220.2 497.2,222.8 499.0,224.0C500.8,225.2 503.2,225.8 505.0,225.0C506.8,224.2 508.5,221.9 510.0,219.0C511.5,216.1 512.8,211.1 514.0,207.5C515.2,203.9 515.8,200.6 517.5,197.5C519.2,194.4 521.5,191.2 524.0,189.0C526.5,186.8 529.7,184.7 532.5,184.0C535.3,183.3 538.2,184.0 541.0,185.0C543.8,186.0 546.7,187.5 549.0,190.0C551.3,192.5 553.0,196.5 555.0,200.0C557.0,203.5 559.2,207.2 561.0,211.0C562.8,214.8 564.1,219.2 566.0,222.5C567.9,225.8 570.2,229.0 572.5,231.0C574.8,233.0 577.1,234.0 580.0,234.5C582.9,235.0 585.8,234.2 590.0,234.0C594.2,233.8 599.8,232.8 605.0,233.0C610.2,233.2 615.2,235.0 621.0,235.5C626.8,236.0 636.8,263.6 640.0,236.0C643.2,208.4 689.9,97.7 640.0,70.0C590.1,42.3 390.5,68.0 340.5,70.0Z"/>
<path fill="#ffff00" d="M321.0,203.5C322.4,203.9 324.8,205.2 326.0,207.5C327.2,209.8 328.0,214.2 328.0,217.5C328.0,220.8 326.9,225.1 326.0,227.5C325.1,229.9 323.9,231.8 322.5,232.0C321.1,232.2 318.9,231.0 317.5,229.0C316.1,227.0 314.5,223.2 314.0,220.0C313.5,216.8 313.9,212.5 314.5,210.0C315.1,207.5 316.4,206.1 317.5,205.0C318.6,203.9 319.6,203.1 321.0,203.5Z"/>
<path fill="#ffff00" d="M157.5,341.0C158.9,341.0 161.2,342.3 162.5,344.0C163.8,345.7 164.8,348.5 165.0,351.0C165.2,353.5 165.0,357.1 164.0,359.0C163.0,360.9 160.5,362.8 159.0,362.5C157.5,362.2 156.1,359.6 155.0,357.5C153.9,355.4 152.7,352.2 152.5,350.0C152.3,347.8 153.2,345.5 154.0,344.0C154.8,342.5 156.1,341.0 157.5,341.0Z"/>
<path fill="#ffff00" d="M220.0,312.0C221.9,312.7 225.7,316.4 227.5,319.0C229.3,321.6 229.9,324.4 231.0,327.5C232.1,330.6 233.8,334.6 234.0,337.5C234.2,340.4 233.6,343.4 232.5,345.0C231.4,346.6 229.4,347.2 227.5,347.0C225.6,346.8 222.7,345.3 221.0,344.0C219.3,342.7 218.3,341.0 217.5,339.0C216.7,337.0 216.4,334.8 216.0,332.0C215.6,329.2 215.0,324.8 215.0,322.0C215.0,319.2 215.2,316.7 216.0,315.0C216.8,313.3 218.1,311.3 220.0,312.0Z"/>
<path fill="#ffff00" d="M563.5,342.5 L566.7,339.5 L570.0,342.5 L566.7,346.0Z"/>
<path fill="#ffff00" d="M208.0,304.0C208.0,303.3 210.0,302.0 211.0,302.0C212.0,302.0 214.0,303.3 214.0,304.0C214.0,304.7 212.0,306.0 211.0,306.0C210.0,306.0 208.0,304.7 208.0,304.0Z"/>
<path fill="#ffff00" d="M125.0,314.0C125.0,313.5 126.3,312.5 127.0,312.5C127.7,312.5 129.0,313.5 129.0,314.0C129.0,314.5 127.7,315.5 127.0,315.5C126.3,315.5 125.0,314.5 125.0,314.0Z"/>
<path fill="#ffcc00" d="M246.0,480.0C235.3,477.1 248.5,467.1 250.0,462.5C251.5,457.9 253.2,456.1 255.0,452.5C256.8,448.9 258.9,444.3 261.0,441.0C263.1,437.7 265.2,434.8 267.5,432.5C269.8,430.2 272.5,428.6 275.0,427.5C277.5,426.4 280.0,425.8 282.5,426.0C285.0,426.2 287.8,427.4 290.0,428.7C292.2,430.0 294.2,431.8 296.0,433.7C297.8,435.6 299.1,437.3 301.0,440.0C302.9,442.7 305.6,446.7 307.5,450.0C309.4,453.3 311.5,456.9 312.5,460.0C313.5,463.1 313.4,465.4 313.7,468.7C313.9,472.0 325.3,478.1 314.0,480.0C302.7,481.9 256.7,482.9 246.0,480.0Z"/>
<path fill="#ffcc00" d="M419.0,480.0C414.7,478.2 418.9,473.3 419.0,469.0C419.1,464.7 419.0,458.3 419.4,454.0C419.8,449.7 420.4,446.1 421.4,443.3C422.4,440.5 423.7,438.6 425.4,437.2C427.1,435.8 429.5,434.9 431.5,434.9C433.5,434.9 435.9,435.8 437.6,437.2C439.3,438.6 440.6,440.5 441.7,443.3C442.8,446.1 443.5,449.7 444.0,454.0C444.5,458.3 444.6,464.7 444.8,469.0C445.0,473.3 449.3,478.2 445.0,480.0C440.7,481.8 423.3,481.8 419.0,480.0Z"/>
<path fill="#ffcc00" d="M227.0,99.0C225.0,99.5 222.7,101.2 221.0,103.0C219.3,104.8 218.0,107.2 217.0,110.0C216.0,112.8 215.3,116.3 215.0,120.0C214.7,123.7 214.7,128.0 215.0,132.0C215.3,136.0 216.0,140.0 217.0,144.0C218.0,148.0 219.5,152.3 221.0,156.0C222.5,159.7 224.2,163.0 226.0,166.0C227.8,169.0 230.0,171.8 232.0,174.0C234.0,176.2 236.0,178.3 238.0,179.5C240.0,180.7 242.0,180.9 244.0,181.0C246.0,181.1 248.3,181.2 250.0,180.0C251.7,178.8 253.2,177.3 254.0,174.0C254.8,170.7 255.3,165.0 255.0,160.0C254.7,155.0 252.8,148.0 252.0,144.0C251.2,140.0 250.8,139.0 250.0,136.0C249.2,133.0 248.2,129.3 247.0,126.0C245.8,122.7 244.5,119.3 243.0,116.0C241.5,112.7 239.7,108.7 238.0,106.0C236.3,103.3 234.8,101.2 233.0,100.0C231.2,98.8 229.0,98.5 227.0,99.0Z"/>
<path fill="#ffcc00" d="M360.0,99.5C358.5,100.2 356.9,101.8 356.0,104.0C355.1,106.2 354.5,109.8 354.5,112.5C354.5,115.2 354.9,117.8 356.0,120.0C357.1,122.2 358.8,124.2 361.0,126.0C363.2,127.8 366.5,129.6 369.0,131.0C371.5,132.4 374.0,134.0 376.0,134.5C378.0,135.0 379.8,134.9 381.0,134.0C382.2,133.1 383.0,131.2 383.0,129.0C383.0,126.8 382.2,123.8 381.0,121.0C379.8,118.2 377.8,115.3 376.0,112.5C374.2,109.7 371.8,106.1 370.0,104.0C368.2,101.9 366.7,100.8 365.0,100.0C363.3,99.2 361.5,98.8 360.0,99.5Z"/>
<path fill="#ffcc00" d="M387.0,136.0C385.6,136.6 384.7,138.1 384.0,140.0C383.3,141.9 383.0,144.8 383.0,147.5C383.0,150.2 384.0,153.1 384.0,156.0C384.0,158.9 383.2,162.3 383.0,165.0C382.8,167.7 382.8,169.5 383.0,172.0C383.2,174.5 383.2,177.0 384.0,180.0C384.8,183.0 385.8,186.8 387.5,190.0C389.2,193.2 391.9,196.5 394.0,199.0C396.1,201.5 397.8,203.6 400.0,205.0C402.2,206.4 405.2,207.3 407.5,207.5C409.8,207.7 412.4,207.1 414.0,206.0C415.6,204.9 416.5,203.7 417.0,201.0C417.5,198.3 417.3,193.8 417.0,190.0C416.7,186.2 415.8,181.7 415.0,178.0C414.2,174.3 413.3,171.0 412.5,168.0C411.7,165.0 411.2,163.0 410.0,160.0C408.8,157.0 406.8,153.2 405.0,150.0C403.2,146.8 401.1,143.2 399.0,141.0C396.9,138.8 394.5,137.3 392.5,136.5C390.5,135.7 388.4,135.4 387.0,136.0Z"/>
<path fill="#ffcc00" d="M507.0,70.0C492.1,72.0 506.8,78.2 507.5,82.0C508.2,85.8 509.7,89.0 511.0,92.5C512.3,96.0 513.8,99.4 515.5,103.0C517.2,106.6 519.0,111.3 521.0,114.0C523.0,116.7 525.0,117.8 527.5,119.0C530.0,120.2 532.9,121.0 536.0,121.0C539.1,121.0 542.8,120.0 546.0,119.0C549.2,118.0 551.8,116.7 555.0,115.0C558.2,113.3 561.7,111.3 565.0,109.0C568.3,106.7 571.8,103.8 575.0,101.0C578.2,98.2 581.5,95.2 584.0,92.5C586.5,89.8 588.6,86.8 590.0,85.0C591.4,83.2 591.3,84.5 592.5,82.0C593.7,79.5 611.2,72.0 597.0,70.0C582.8,68.0 521.9,68.0 507.0,70.0Z"/>
<path fill="#ff0000" d="M288.5,447.5 L296.0,447.0 L296.5,460.0 L294.0,466.0 L290.0,468.0 L286.0,460.0 L287.0,452.0Z"/>
<path fill="#ff0000" d="M229.0,113.5C230.7,113.5 232.7,115.2 234.0,117.0C235.3,118.8 236.5,121.5 237.0,124.0C237.5,126.5 237.5,129.7 237.0,132.0C236.5,134.3 235.0,136.7 234.0,138.0C233.0,139.3 232.2,140.3 231.0,140.0C229.8,139.7 228.2,137.7 227.0,136.0C225.8,134.3 224.8,132.2 224.0,130.0C223.2,127.8 222.4,125.2 222.4,123.0C222.4,120.8 222.9,118.6 224.0,117.0C225.1,115.4 227.3,113.5 229.0,113.5Z"/>
<path fill="#0000ff" d="M205.0,355.0 L206.5,354.0 L207.0,358.0 L206.5,362.0 L205.0,362.0Z"/>
<path fill="#0000ff" d="M229.3,370.6 L230.3,370.6 L230.3,371.8 L229.3,371.8Z"/>
</g>
</g>
<g clip-path="url(#mc2)">
<g class="ct">
<path d="M20.0,70.0C51.6,1.7 169.7,68.0 199.6,70.0C229.5,72.0 199.7,76.5 199.6,82.0C199.5,87.5 198.9,98.0 199.0,103.0C199.1,108.0 199.7,107.8 200.0,112.0C200.3,116.2 201.0,122.7 201.0,128.0C201.0,133.3 200.4,139.0 200.0,144.0C199.6,149.0 199.1,154.3 198.6,158.0C198.1,161.7 197.6,163.7 197.0,166.0C196.4,168.3 195.8,169.7 195.0,172.0C194.2,174.3 194.2,177.2 192.5,180.0C190.8,182.8 187.5,187.2 185.0,189.0C182.5,190.8 179.8,191.0 177.5,190.5C175.2,190.0 172.9,188.2 171.0,186.0C169.1,183.8 167.5,180.3 166.0,177.5C164.5,174.7 163.5,171.0 162.0,169.0C160.5,167.0 158.7,166.0 157.0,165.6C155.3,165.2 153.3,165.6 152.0,166.5C150.7,167.4 149.8,169.2 149.0,171.0C148.2,172.8 147.6,175.2 147.5,177.0C147.4,178.8 147.9,179.8 148.7,182.0C149.5,184.2 151.0,187.4 152.5,190.0C154.0,192.6 155.4,195.0 157.5,197.5C159.6,200.0 162.9,202.1 165.0,205.0C167.1,207.9 168.6,211.5 170.0,215.0C171.4,218.5 172.8,221.8 173.5,226.0C174.2,230.2 174.3,235.2 174.5,240.0C174.7,244.8 174.6,250.5 174.5,255.0C174.4,259.5 173.8,263.2 174.0,267.0C174.2,270.8 174.3,274.5 175.5,278.0C176.7,281.5 178.9,284.7 181.0,288.0C183.1,291.3 185.2,293.9 188.0,298.0C190.8,302.1 195.1,307.2 197.5,312.5C199.9,317.8 201.9,324.6 202.5,330.0C203.1,335.4 201.8,339.6 201.0,345.0C200.2,350.4 198.3,357.1 197.5,362.5C196.7,367.9 196.8,373.8 196.0,377.5C195.2,381.2 194.3,382.9 192.5,385.0C190.7,387.1 187.2,389.6 185.0,390.0C182.8,390.4 181.1,389.6 179.0,387.5C176.9,385.4 174.0,381.7 172.5,377.5C171.0,373.3 170.6,368.3 170.0,362.5C169.4,356.7 169.4,348.8 169.0,342.5C168.6,336.2 168.0,331.2 167.5,325.0C167.0,318.8 166.3,310.5 166.0,305.0C165.7,299.5 166.0,295.2 165.5,292.0C165.0,288.8 164.2,287.2 163.0,286.0C161.8,284.8 160.6,284.5 158.0,284.5C155.4,284.5 151.3,285.5 147.5,286.0C143.7,286.5 138.8,286.7 135.0,287.5C131.2,288.3 127.9,289.1 125.0,291.0C122.1,292.9 120.0,296.2 117.5,299.0C115.0,301.8 112.9,305.5 110.0,307.5C107.1,309.5 103.8,310.2 100.0,311.0C96.2,311.8 91.7,312.2 87.5,312.5C83.3,312.8 79.6,312.5 75.0,312.5C70.4,312.5 65.0,311.9 60.0,312.5C55.0,313.1 49.2,314.6 45.0,316.0C40.8,317.4 37.7,319.1 35.0,321.0C32.3,322.9 30.7,325.3 29.0,327.5C27.3,329.7 27.8,331.9 25.0,334.0C22.2,336.1 14.2,337.3 12.0,340.0C9.8,342.7 9.8,347.6 12.0,350.0C14.2,352.4 22.2,352.8 25.0,354.5C27.8,356.2 27.2,357.9 28.5,360.0C29.8,362.1 30.9,364.7 33.0,367.0C35.1,369.3 38.3,371.4 41.0,373.7C43.7,375.9 46.9,378.2 49.0,380.5C51.1,382.8 52.1,384.7 53.7,387.5C55.3,390.3 57.2,394.2 58.7,397.5C60.2,400.8 61.5,404.2 62.5,407.5C63.5,410.8 64.4,413.8 65.0,417.5C65.6,421.2 65.7,425.4 66.0,430.0C66.3,434.6 66.8,438.8 67.0,445.0C67.2,451.2 67.4,461.7 67.5,467.5C67.6,473.3 77.1,477.9 67.5,480.0C57.9,482.1 17.9,548.3 10.0,480.0C2.1,411.7 -11.6,138.3 20.0,70.0Z"/>
<path d="M255.0,70.0C244.9,72.0 255.4,78.8 255.7,82.0C256.0,85.2 256.5,87.0 256.9,89.4C257.3,91.8 257.4,93.8 258.0,96.3C258.6,98.8 259.4,101.6 260.3,104.3C261.2,107.0 262.5,110.1 263.7,112.3C264.9,114.5 266.2,116.4 267.7,117.4C269.2,118.5 271.2,118.5 272.9,118.6C274.6,118.7 276.3,118.8 278.0,118.2C279.7,117.6 281.3,116.6 283.1,115.1C284.9,113.6 286.8,111.9 288.9,109.4C291.0,106.9 293.5,103.3 296.0,100.0C298.5,96.7 301.6,92.4 303.7,89.4C305.8,86.4 306.8,85.2 308.9,82.0C310.9,78.8 325.0,72.0 316.0,70.0C307.0,68.0 265.1,68.0 255.0,70.0Z"/>
<path d="M300.0,165.0C300.4,162.1 301.2,159.6 302.5,157.5C303.8,155.4 305.4,153.6 307.5,152.5C309.6,151.4 312.5,150.9 315.0,151.0C317.5,151.1 320.4,152.5 322.5,153.0C324.6,153.5 325.4,154.2 327.5,154.0C329.6,153.8 332.5,152.5 335.0,152.0C337.5,151.5 340.0,150.7 342.5,151.0C345.0,151.3 347.8,152.5 350.0,154.0C352.2,155.5 354.5,157.2 356.0,160.0C357.5,162.8 358.3,167.7 359.0,171.0C359.7,174.3 359.8,176.4 360.0,180.0C360.2,183.6 360.4,188.8 360.0,192.5C359.6,196.2 358.5,199.8 357.5,202.5C356.5,205.2 355.4,208.2 354.0,209.0C352.6,209.8 350.9,208.6 349.0,207.5C347.1,206.4 344.8,204.4 342.5,202.5C340.2,200.6 337.5,197.7 335.0,196.0C332.5,194.3 330.4,193.4 327.5,192.5C324.6,191.6 320.8,191.1 317.5,190.5C314.2,189.9 310.1,190.1 307.5,189.0C304.9,187.9 303.2,186.3 302.0,184.0C300.8,181.7 300.3,178.2 300.0,175.0C299.7,171.8 299.6,167.9 300.0,165.0Z"/>
<path d="M465.0,137.5C467.3,137.6 470.2,138.3 472.5,140.0C474.8,141.7 477.3,144.6 479.0,147.5C480.7,150.4 481.6,154.2 482.5,157.5C483.4,160.8 484.2,164.2 484.5,167.5C484.8,170.8 484.6,174.4 484.0,177.5C483.4,180.6 482.3,183.6 481.0,186.0C479.7,188.4 477.8,190.3 476.0,192.0C474.2,193.7 472.2,196.0 470.0,196.0C467.8,196.0 465.2,193.7 463.0,192.0C460.8,190.3 458.6,188.0 457.0,186.0C455.4,184.0 454.8,182.7 453.5,180.0C452.2,177.3 450.4,172.9 449.5,170.0C448.6,167.1 448.3,165.4 448.3,162.5C448.3,159.6 448.4,155.6 449.3,152.5C450.2,149.4 452.0,146.2 453.5,144.0C455.0,141.8 456.6,140.6 458.5,139.5C460.4,138.4 462.7,137.4 465.0,137.5Z"/>
<path d="M272.5,201.5C275.5,201.8 279.3,202.8 282.0,204.5C284.7,206.2 286.7,208.9 288.5,212.0C290.3,215.1 291.9,219.2 293.0,223.0C294.1,226.8 294.9,230.8 295.3,235.0C295.7,239.2 295.5,243.7 295.3,248.0C295.1,252.3 294.6,256.8 294.0,261.0C293.4,265.2 292.9,269.1 292.0,273.0C291.1,276.9 289.8,280.7 288.5,284.5C287.2,288.3 285.3,292.6 284.0,296.0C282.7,299.4 281.9,302.5 280.6,305.0C279.3,307.5 277.2,309.0 276.0,311.0C274.8,313.0 273.8,314.9 273.5,317.0C273.2,319.1 273.8,321.3 274.5,323.5C275.2,325.7 276.2,327.9 277.5,330.0C278.8,332.1 280.4,333.9 282.5,336.0C284.6,338.1 287.5,340.9 290.0,342.5C292.5,344.1 294.3,344.8 297.5,345.5C300.7,346.2 305.2,346.6 309.0,346.5C312.8,346.4 317.2,345.1 320.0,345.0C322.8,344.9 324.0,345.2 326.0,346.0C328.0,346.8 330.2,348.3 332.0,349.8C333.8,351.3 335.0,353.0 336.5,355.0C338.0,357.0 339.5,359.5 341.0,362.0C342.5,364.5 344.0,367.5 345.5,370.0C347.0,372.5 348.6,375.2 350.0,377.0C351.4,378.8 353.0,379.8 354.0,381.0C355.0,382.2 355.3,383.7 356.0,384.4C356.7,385.1 357.3,385.1 358.0,385.0C358.7,384.9 359.3,384.6 360.0,383.6C360.7,382.6 361.3,381.0 362.0,379.0C362.7,377.0 363.6,374.4 364.4,371.6C365.2,368.9 365.8,365.8 366.6,362.5C367.4,359.2 368.3,355.3 369.0,352.0C369.7,348.7 370.2,346.6 371.0,342.5C371.8,338.4 373.2,332.1 374.0,327.5C374.8,322.9 375.0,318.8 376.0,315.0C377.0,311.2 378.5,307.9 380.0,305.0C381.5,302.1 382.5,299.8 385.0,297.5C387.5,295.2 392.0,292.6 395.0,291.5C398.0,290.4 401.3,291.9 403.0,291.0C404.7,290.1 404.0,287.2 405.0,286.0C406.0,284.8 407.5,284.2 409.0,284.0C410.5,283.8 412.7,283.7 414.0,284.5C415.3,285.3 416.3,287.1 417.0,289.0C417.7,290.9 417.3,293.2 418.0,296.0C418.7,298.8 419.7,302.7 421.0,306.0C422.3,309.3 424.1,313.0 426.0,316.0C427.9,319.0 430.2,321.8 432.5,324.0C434.8,326.2 437.1,327.6 440.0,329.0C442.9,330.4 446.8,331.3 450.0,332.5C453.2,333.7 456.7,334.3 459.0,336.0C461.3,337.7 463.0,339.8 464.0,342.5C465.0,345.2 465.0,349.2 465.0,352.5C465.0,355.8 464.8,359.6 464.0,362.5C463.2,365.4 461.9,367.2 460.0,370.0C458.1,372.8 455.2,376.1 452.5,379.0C449.8,381.9 447.3,385.2 444.0,387.5C440.7,389.8 435.7,390.6 432.5,392.5C429.3,394.4 427.5,396.9 425.0,399.0C422.5,401.1 420.0,403.3 417.5,405.0C415.0,406.7 412.9,408.6 410.0,409.0C407.1,409.4 403.0,408.7 400.0,407.7C397.0,406.7 394.3,404.4 392.0,403.0C389.7,401.6 388.0,400.5 386.0,399.4C384.0,398.3 382.0,397.4 380.0,396.4C378.0,395.4 376.0,394.1 374.0,393.4C372.0,392.7 369.5,392.6 368.0,392.0C366.5,391.4 365.8,390.9 365.0,389.6C364.2,388.3 363.8,384.3 363.0,384.0C362.2,383.7 361.2,386.6 360.0,388.0C358.8,389.4 356.9,390.8 356.0,392.6C355.1,394.4 355.3,396.6 354.6,398.6C353.9,400.6 353.0,402.5 352.0,404.7C351.0,406.9 349.8,409.6 348.5,412.0C347.2,414.4 345.8,417.2 344.0,419.0C342.2,420.8 339.8,422.3 337.5,422.5C335.2,422.7 332.9,421.9 330.0,420.0C327.1,418.1 323.8,414.5 320.0,411.0C316.2,407.5 310.8,402.2 307.5,399.0C304.2,395.8 302.9,394.2 300.0,392.0C297.1,389.8 293.3,387.3 290.0,386.0C286.7,384.7 283.8,384.3 280.0,384.0C276.2,383.7 271.7,383.7 267.5,384.0C263.3,384.3 258.6,384.8 255.0,386.0C251.4,387.2 248.7,389.3 246.0,391.0C243.3,392.7 241.5,394.9 239.0,396.0C236.5,397.1 233.5,397.7 231.0,397.5C228.5,397.3 226.0,396.4 224.0,395.0C222.0,393.6 220.2,391.5 219.0,389.0C217.8,386.5 216.8,383.2 217.0,380.0C217.2,376.8 218.7,372.9 220.0,370.0C221.3,367.1 222.9,364.3 225.0,362.5C227.1,360.7 229.6,360.2 232.5,359.0C235.4,357.8 239.6,356.9 242.5,355.0C245.4,353.1 248.3,350.0 250.0,347.5C251.7,345.0 252.5,343.8 252.5,340.0C252.5,336.2 250.9,330.0 250.0,325.0C249.1,320.0 247.5,314.1 247.0,310.0C246.5,305.9 246.5,303.5 246.8,300.6C247.1,297.7 247.9,295.0 249.0,292.7C250.1,290.4 252.2,289.1 253.5,287.0C254.8,284.9 256.5,282.2 257.0,280.0C257.5,277.8 257.1,275.2 256.5,273.5C255.9,271.8 254.9,270.4 253.5,270.0C252.1,269.6 250.1,270.6 248.0,271.0C245.9,271.4 243.3,272.6 241.0,272.4C238.7,272.2 236.5,271.1 234.3,270.0C232.1,268.9 229.7,267.7 227.6,265.6C225.5,263.6 223.5,260.5 222.0,257.7C220.5,254.9 219.3,251.7 218.5,248.7C217.7,245.7 217.2,242.7 217.4,239.7C217.6,236.7 218.6,233.4 219.7,230.6C220.8,227.8 221.9,225.1 224.0,222.7C226.1,220.3 229.0,218.1 232.0,216.0C235.0,213.9 238.2,211.7 242.0,210.0C245.8,208.3 251.0,207.2 254.7,206.0C258.4,204.8 261.0,203.8 264.0,203.0C267.0,202.2 269.5,201.2 272.5,201.5Z"/>
<path d="M535.0,215.7C536.5,216.4 538.3,217.6 540.0,220.0C541.7,222.4 543.3,226.2 545.0,230.0C546.7,233.8 547.9,238.8 550.0,242.5C552.1,246.2 554.2,250.0 557.5,252.5C560.8,255.0 566.2,256.1 570.0,257.5C573.8,258.9 577.1,259.3 580.0,261.0C582.9,262.7 585.5,264.8 587.5,267.5C589.5,270.2 591.1,274.2 592.0,277.5C592.9,280.8 593.3,284.2 593.0,287.5C592.7,290.8 591.8,294.8 590.0,297.5C588.2,300.2 585.4,302.6 582.5,304.0C579.6,305.4 576.2,305.8 572.5,306.0C568.8,306.2 563.9,306.0 560.0,305.0C556.1,304.0 553.6,302.2 549.0,300.0C544.4,297.8 537.3,293.8 532.5,292.0C527.7,290.2 523.6,290.8 520.0,289.5C516.4,288.2 513.3,286.8 511.0,284.5C508.7,282.2 507.1,278.8 506.0,276.0C504.9,273.2 504.5,270.4 504.5,267.5C504.5,264.6 504.7,261.4 506.0,258.7C507.3,255.9 510.6,253.7 512.5,251.0C514.4,248.3 515.8,246.0 517.5,242.5C519.2,239.0 520.8,233.8 522.5,230.0C524.2,226.2 526.1,222.3 527.5,220.0C528.9,217.7 529.8,216.7 531.0,216.0C532.2,215.3 533.5,215.0 535.0,215.7Z"/>
<path d="M513.7,480.0C493.5,478.1 513.6,472.0 513.7,468.7C513.8,465.4 513.3,463.3 514.5,460.0C515.7,456.7 518.6,452.9 521.0,448.7C523.4,444.5 526.0,438.3 528.7,435.0C531.5,431.7 534.0,430.3 537.5,428.7C541.0,427.1 545.8,426.2 550.0,425.5C554.2,424.8 559.2,425.0 562.5,424.5C565.8,424.0 567.1,423.7 570.0,422.5C572.9,421.3 576.7,419.4 580.0,417.5C583.3,415.6 586.7,413.1 590.0,411.0C593.3,408.9 596.7,406.4 600.0,405.0C603.3,403.6 606.5,402.9 610.0,402.5C613.5,402.1 616.8,402.5 621.0,402.5C625.2,402.5 632.7,389.6 635.0,402.5C637.3,415.4 655.2,467.1 635.0,480.0C614.8,492.9 533.9,481.9 513.7,480.0Z"/>
<path d="M553.7,365.0C554.1,363.6 554.8,361.3 556.0,360.5C557.2,359.7 559.7,359.4 561.0,360.0C562.3,360.6 563.5,362.2 564.0,364.0C564.5,365.8 564.4,368.9 563.7,371.0C563.0,373.1 561.3,376.0 560.0,376.5C558.7,377.0 557.0,375.2 556.0,374.0C555.0,372.8 554.1,370.5 553.7,369.0C553.3,367.5 553.3,366.4 553.7,365.0Z"/>
<path d="M125.0,352.0C125.4,350.2 126.7,349.9 127.5,350.0C128.3,350.1 129.6,350.7 130.0,352.5C130.4,354.3 130.3,359.1 130.0,361.0C129.7,362.9 128.8,364.0 128.0,364.0C127.2,364.0 125.5,363.0 125.0,361.0C124.5,359.0 124.6,353.8 125.0,352.0Z"/>
<path d="M15.0,70.0C43.2,33.7 153.3,68.0 181.0,70.0C208.7,72.0 180.7,79.0 181.0,82.0C181.3,85.0 182.0,85.0 183.0,88.0C184.0,91.0 186.0,96.0 187.0,100.0C188.0,104.0 188.3,108.3 189.0,112.0C189.7,115.7 190.5,118.7 191.0,122.0C191.5,125.3 191.8,128.7 192.0,132.0C192.2,135.3 192.3,139.0 192.0,142.0C191.7,145.0 191.2,147.8 190.0,150.0C188.8,152.2 186.7,153.9 185.0,155.0C183.3,156.1 181.8,156.4 180.0,156.4C178.2,156.4 176.0,155.9 174.0,155.0C172.0,154.1 170.0,152.7 168.0,151.0C166.0,149.3 164.0,146.8 162.0,145.0C160.0,143.2 158.0,141.3 156.0,140.0C154.0,138.7 152.0,137.8 150.0,137.0C148.0,136.2 146.3,135.4 144.0,135.0C141.7,134.6 138.7,134.3 136.0,134.4C133.3,134.5 130.7,134.8 128.0,135.4C125.3,136.0 122.7,137.0 120.0,138.0C117.3,139.0 114.3,140.3 112.0,141.6C109.7,142.9 107.5,144.4 106.0,146.0C104.5,147.6 103.4,148.3 103.0,151.0C102.6,153.7 103.0,158.5 103.5,162.0C104.0,165.5 104.5,168.6 106.0,172.0C107.5,175.4 110.2,179.1 112.5,182.5C114.8,185.9 117.5,189.2 120.0,192.5C122.5,195.8 125.4,199.2 127.5,202.5C129.6,205.8 131.1,209.2 132.5,212.5C133.9,215.8 134.9,219.2 135.7,222.5C136.4,225.8 136.9,229.2 137.0,232.5C137.1,235.8 136.6,239.2 136.0,242.5C135.4,245.8 134.9,249.2 133.7,252.5C132.5,255.8 130.6,259.4 128.7,262.5C126.8,265.6 124.8,268.1 122.5,271.0C120.2,273.9 117.1,277.2 115.0,280.0C112.9,282.8 111.5,285.4 110.0,287.5C108.5,289.6 107.7,291.2 106.0,292.5C104.3,293.8 102.3,294.7 100.0,295.0C97.7,295.3 94.9,295.0 92.0,294.5C89.1,294.0 85.8,293.2 82.5,292.0C79.2,290.8 75.8,288.8 72.5,287.5C69.2,286.2 66.2,285.2 62.5,284.5C58.8,283.8 54.2,283.1 50.0,283.0C45.8,282.9 41.7,283.2 37.5,283.7C33.3,284.2 29.2,285.3 25.0,286.0C20.8,286.7 13.7,324.0 12.0,288.0C10.3,252.0 -13.2,106.3 15.0,70.0Z"/>
<path d="M12.0,388.0C14.2,372.9 21.6,388.8 25.0,389.5C28.4,390.2 30.0,390.8 32.5,392.5C35.0,394.2 37.8,397.1 40.0,400.0C42.2,402.9 44.3,406.7 46.0,410.0C47.7,413.3 49.1,416.7 50.0,420.0C50.9,423.3 51.3,426.7 51.5,430.0C51.7,433.3 51.5,436.3 51.0,440.0C50.5,443.7 49.7,447.4 48.7,452.0C47.7,456.6 46.0,462.8 45.0,467.5C44.0,472.2 48.5,477.9 43.0,480.0C37.5,482.1 17.2,495.3 12.0,480.0C6.8,464.7 9.8,403.1 12.0,388.0Z"/>
<path d="M312.5,166.0C313.4,164.6 315.6,164.0 317.5,164.0C319.4,164.0 322.6,164.6 324.0,166.0C325.4,167.4 326.2,170.3 326.0,172.5C325.8,174.7 324.2,177.9 322.5,179.0C320.8,180.1 317.8,180.1 316.0,179.0C314.2,177.9 312.6,174.7 312.0,172.5C311.4,170.3 311.6,167.4 312.5,166.0Z"/>
<path d="M335.0,170.0C335.7,167.9 337.9,166.0 340.0,165.0C342.1,164.0 345.7,163.2 347.5,164.0C349.3,164.8 350.4,167.8 351.0,170.0C351.6,172.2 351.8,175.2 351.0,177.5C350.2,179.8 347.8,183.2 346.0,184.0C344.2,184.8 341.7,183.6 340.0,182.5C338.3,181.4 336.8,179.6 336.0,177.5C335.2,175.4 334.3,172.1 335.0,170.0Z"/>
<path d="M461.0,156.0C462.1,154.4 464.3,153.0 466.0,153.0C467.7,153.0 469.7,154.2 471.0,156.0C472.3,157.8 473.5,161.5 473.7,164.0C473.9,166.5 473.3,169.3 472.0,171.0C470.7,172.7 467.8,174.2 466.0,174.0C464.2,173.8 462.1,171.9 461.0,170.0C459.9,168.1 459.5,164.8 459.5,162.5C459.5,160.2 459.9,157.6 461.0,156.0Z"/>
<path d="M274.0,261.5C275.2,260.4 276.4,260.8 277.5,262.0C278.6,263.2 279.7,265.9 280.3,268.5C280.9,271.1 281.2,274.2 281.0,277.5C280.8,280.8 279.7,284.8 279.0,288.0C278.3,291.2 277.6,294.1 276.8,297.0C276.0,299.9 275.3,302.7 274.3,305.5C273.3,308.3 272.4,311.7 271.0,314.0C269.6,316.3 267.7,318.9 266.0,319.5C264.3,320.1 262.6,318.9 261.0,317.5C259.4,316.1 257.4,313.4 256.5,311.0C255.6,308.6 255.3,305.8 255.5,303.0C255.7,300.2 256.6,296.8 257.5,294.0C258.4,291.2 259.6,288.8 261.0,286.0C262.4,283.2 264.5,279.9 266.0,277.0C267.5,274.1 268.7,271.1 270.0,268.5C271.3,265.9 272.8,262.6 274.0,261.5Z"/>
<path d="M184.0,321.0C182.0,321.6 179.0,323.7 177.5,326.0C176.0,328.3 175.4,331.4 175.0,335.0C174.6,338.6 174.6,343.3 175.0,347.5C175.4,351.7 176.2,356.7 177.5,360.0C178.8,363.3 180.8,366.2 182.5,367.5C184.2,368.8 186.1,369.1 187.5,368.0C188.9,366.9 189.8,364.0 191.0,361.0C192.2,358.0 193.8,353.7 194.5,350.0C195.2,346.3 195.6,342.5 195.5,339.0C195.4,335.5 195.0,331.8 194.0,329.0C193.0,326.2 191.2,323.8 189.5,322.5C187.8,321.2 186.0,320.4 184.0,321.0Z"/>
<path d="M324.0,373.0C324.3,371.5 325.4,370.8 326.0,371.0C326.6,371.2 327.2,372.5 327.5,374.0C327.8,375.5 327.8,378.6 327.5,380.0C327.2,381.4 326.6,382.5 326.0,382.5C325.4,382.5 324.3,381.6 324.0,380.0C323.7,378.4 323.7,374.5 324.0,373.0Z"/>
<path d="M400.0,341.0C403.2,340.8 407.1,342.3 410.0,344.0C412.9,345.7 415.5,348.2 417.5,351.0C419.5,353.8 421.2,357.7 422.0,361.0C422.8,364.3 422.8,367.8 422.5,371.0C422.2,374.2 421.2,377.5 420.0,380.0C418.8,382.5 416.8,384.6 415.0,386.0C413.2,387.4 411.7,388.7 409.0,388.5C406.3,388.3 402.3,386.8 399.0,385.0C395.7,383.2 391.5,380.0 389.0,377.5C386.5,375.0 385.1,372.8 384.0,370.0C382.9,367.2 382.3,363.9 382.5,361.0C382.7,358.1 383.6,355.2 385.0,352.5C386.4,349.8 388.5,346.9 391.0,345.0C393.5,343.1 396.8,341.2 400.0,341.0Z"/>
<path d="M12.0,70.0C30.5,42.5 104.5,68.1 123.0,70.0C141.5,71.9 123.5,78.8 123.0,81.6C122.5,84.4 120.8,85.3 120.0,87.0C119.2,88.7 119.3,89.7 118.0,92.0C116.7,94.3 113.7,98.3 112.0,101.0C110.3,103.7 109.7,105.8 108.0,108.0C106.3,110.2 104.3,112.0 102.0,114.0C99.7,116.0 97.0,117.8 94.0,120.0C91.0,122.2 86.7,124.8 84.0,127.0C81.3,129.2 79.7,130.8 78.0,133.0C76.3,135.2 74.9,137.5 74.0,140.0C73.1,142.5 72.5,145.0 72.4,148.0C72.3,151.0 73.0,154.7 73.6,158.0C74.2,161.3 74.9,164.0 76.0,168.0C77.1,172.0 79.0,177.5 80.0,182.0C81.0,186.5 81.5,190.8 81.7,195.0C81.9,199.2 81.5,203.8 81.0,207.5C80.5,211.2 79.7,214.6 78.7,217.5C77.7,220.4 76.5,222.5 75.0,225.0C73.5,227.5 71.8,230.2 70.0,232.5C68.2,234.8 65.8,237.6 64.0,239.0C62.2,240.4 62.0,240.6 59.0,241.0C56.0,241.4 50.4,241.8 46.0,241.5C41.6,241.2 36.0,239.8 32.5,239.0C29.0,238.2 28.4,237.7 25.0,237.0C21.6,236.3 14.2,262.8 12.0,235.0C9.8,207.2 -6.5,97.5 12.0,70.0Z"/>
<path d="M12.0,70.0C18.8,60.5 46.2,68.1 53.0,70.0C59.8,71.9 52.5,78.6 53.0,81.6C53.5,84.6 55.2,85.6 56.0,88.0C56.8,90.4 57.4,92.3 57.6,96.0C57.9,99.7 57.7,105.8 57.5,110.0C57.3,114.2 57.0,118.5 56.6,121.0C56.2,123.5 55.8,123.8 55.0,125.0C54.2,126.2 53.5,127.0 52.0,128.0C50.5,129.0 48.3,130.4 46.0,131.0C43.7,131.6 40.7,131.7 38.0,131.6C35.3,131.5 32.2,130.8 30.0,130.4C27.8,130.0 28.0,129.6 25.0,129.0C22.0,128.4 14.2,136.8 12.0,127.0C9.8,117.2 5.2,79.5 12.0,70.0Z"/>
<path d="M181.0,125.5 L183.0,129.0 L183.0,136.0 L180.5,139.0 L178.0,135.0 L176.0,131.0 L178.0,127.5Z"/>
<path d="M264.0,295.0C264.9,294.2 266.6,293.2 267.5,294.0C268.4,294.8 269.2,298.0 269.5,300.0C269.8,302.0 269.8,304.8 269.0,306.0C268.2,307.2 266.2,307.8 265.0,307.5C263.8,307.2 262.0,305.4 261.5,304.0C261.0,302.6 261.6,300.5 262.0,299.0C262.4,297.5 263.1,295.8 264.0,295.0Z"/>
<path d="M184.0,334.0C185.5,333.6 188.6,334.0 190.0,335.5C191.4,337.0 192.2,340.4 192.5,343.0C192.8,345.6 192.6,348.7 192.0,351.0C191.4,353.3 190.2,355.8 189.0,357.0C187.8,358.2 186.2,358.7 185.0,358.0C183.8,357.3 182.3,355.2 181.5,353.0C180.7,350.8 180.4,347.5 180.3,345.0C180.2,342.5 180.4,339.8 181.0,338.0C181.6,336.2 182.5,334.4 184.0,334.0Z"/>
<path d="M84.0,101.0C84.0,100.3 85.3,99.0 86.0,99.0C86.7,99.0 88.0,100.3 88.0,101.0C88.0,101.7 86.7,103.0 86.0,103.0C85.3,103.0 84.0,101.7 84.0,101.0Z"/>
<path d="M113.0,235.7 L115.0,233.5 L117.0,235.7 L115.0,238.0Z"/>
<path d="M34.5,420.0C34.5,419.3 35.8,418.0 36.5,418.0C37.2,418.0 38.5,419.3 38.5,420.0C38.5,420.7 37.2,422.0 36.5,422.0C35.8,422.0 34.5,420.7 34.5,420.0Z"/>
<path d="M71.4,338.0C73.9,338.0 77.9,339.6 80.5,341.0C83.1,342.4 84.9,344.8 87.0,346.6C89.1,348.4 91.3,349.9 93.0,352.0C94.7,354.1 95.7,356.5 97.4,359.0C99.1,361.5 100.9,364.7 103.0,367.0C105.1,369.3 107.2,371.0 110.0,373.0C112.8,375.0 116.7,377.2 120.0,379.0C123.3,380.8 127.2,382.5 130.0,384.0C132.8,385.5 134.7,386.1 137.0,388.0C139.3,389.9 142.0,392.2 144.0,395.5C146.0,398.8 147.6,403.8 149.0,407.5C150.4,411.2 151.2,414.6 152.5,418.0C153.8,421.4 155.2,425.2 157.0,428.0C158.8,430.8 160.4,433.0 163.0,435.0C165.6,437.0 168.8,439.1 172.5,440.0C176.2,440.9 180.6,440.7 185.0,440.5C189.4,440.3 194.4,439.4 199.0,438.7C203.6,437.9 208.2,436.8 212.5,436.0C216.8,435.2 221.2,434.7 225.0,433.7C228.8,432.7 231.7,431.6 235.0,430.0C238.3,428.4 242.1,426.3 245.0,424.0C247.9,421.7 250.0,418.5 252.5,416.0C255.0,413.5 257.5,411.0 260.0,409.0C262.5,407.0 265.0,405.0 267.5,404.0C270.0,403.0 272.5,402.8 275.0,403.0C277.5,403.2 280.0,403.8 282.5,405.0C285.0,406.2 287.5,408.2 290.0,410.0C292.5,411.8 295.0,413.5 297.5,416.0C300.0,418.5 302.5,422.0 305.0,425.0C307.5,428.0 310.0,431.2 312.5,434.0C315.0,436.8 317.8,439.2 320.0,442.0C322.2,444.8 324.3,448.0 326.0,451.0C327.7,454.0 328.7,457.2 330.0,460.0C331.3,462.8 332.7,464.7 334.0,468.0C335.3,471.3 377.0,478.0 338.0,480.0C299.0,482.0 139.7,481.8 100.0,480.0C60.3,478.2 101.2,473.2 100.0,469.0C98.8,464.8 94.8,459.4 92.5,455.0C90.2,450.6 87.7,446.7 86.0,442.5C84.3,438.3 83.3,435.0 82.5,430.0C81.7,425.0 81.6,418.3 81.0,412.5C80.4,406.7 79.8,399.8 79.0,395.0C78.2,390.2 76.9,387.3 76.0,384.0C75.1,380.7 75.2,378.6 73.7,375.0C72.2,371.4 68.7,366.2 67.0,362.4C65.3,358.6 64.1,354.6 63.5,352.0C62.9,349.4 63.1,348.4 63.5,346.6C63.9,344.8 64.5,342.4 65.8,341.0C67.1,339.6 69.0,338.0 71.4,338.0Z"/>
<path d="M406.0,480.0C395.1,478.2 406.1,473.3 406.5,469.0C406.9,464.7 407.7,458.7 408.5,454.0C409.3,449.3 410.1,444.6 411.2,440.6C412.3,436.6 413.7,432.9 415.3,429.8C416.9,426.8 418.7,424.3 420.7,422.3C422.7,420.3 425.2,418.9 427.5,417.6C429.8,416.3 431.8,415.3 434.2,414.6C436.6,413.9 439.2,413.3 441.7,413.5C444.2,413.7 446.7,414.9 449.1,416.0C451.5,417.1 453.1,418.1 455.9,420.3C458.7,422.5 462.9,426.4 466.0,429.0C469.1,431.6 473.0,434.0 474.8,435.9C476.6,437.8 476.8,438.7 476.9,440.6C477.0,442.5 476.5,445.5 475.5,447.4C474.5,449.3 472.5,450.8 470.8,452.0C469.1,453.2 466.6,453.8 465.4,454.8C464.1,455.8 463.4,456.7 463.3,458.2C463.2,459.7 463.9,461.8 464.7,463.6C465.5,465.4 466.8,466.3 468.0,469.0C469.2,471.7 482.3,478.2 472.0,480.0C461.7,481.8 416.9,481.8 406.0,480.0Z"/>
<path d="M377.0,417.0C378.9,416.8 381.9,418.1 383.7,420.0C385.4,421.9 387.3,426.0 387.5,428.7C387.7,431.4 386.2,434.2 385.0,436.0C383.8,437.8 381.7,439.2 380.0,439.5C378.3,439.8 376.5,439.3 375.0,437.5C373.5,435.7 371.4,431.4 371.0,428.7C370.6,425.9 371.5,422.9 372.5,421.0C373.5,419.1 375.1,417.2 377.0,417.0Z"/>
<path d="M316.0,273.5C317.7,273.3 319.1,276.6 320.0,279.0C320.9,281.4 321.5,284.7 321.5,288.0C321.5,291.3 320.9,295.5 320.0,299.0C319.1,302.5 317.7,305.8 316.0,309.0C314.3,312.2 311.8,315.7 310.0,318.0C308.2,320.3 307.1,321.4 305.0,323.0C302.9,324.6 300.0,326.5 297.5,327.5C295.0,328.5 292.2,329.4 290.0,329.0C287.8,328.6 285.5,326.9 284.0,325.0C282.5,323.1 281.2,320.2 281.0,317.5C280.8,314.8 281.8,311.8 283.0,309.0C284.2,306.2 285.7,303.5 288.0,301.0C290.3,298.5 294.3,296.2 297.0,294.0C299.7,291.8 301.8,290.3 304.0,288.0C306.2,285.7 308.0,282.4 310.0,280.0C312.0,277.6 314.3,273.7 316.0,273.5Z"/>
<path d="M224.0,70.0C221.8,72.0 220.9,79.2 219.5,82.0C218.1,84.8 216.7,85.4 215.5,87.0C214.3,88.6 213.4,89.3 212.5,91.5C211.6,93.7 210.8,96.2 210.0,100.0C209.2,103.8 208.5,109.3 208.0,114.0C207.5,118.7 207.1,123.3 207.0,128.0C206.9,132.7 207.1,137.3 207.4,142.0C207.7,146.7 208.4,151.7 209.0,156.0C209.6,160.3 210.0,164.4 211.0,168.0C212.0,171.6 213.1,174.8 215.0,177.5C216.9,180.2 219.6,182.1 222.5,184.0C225.4,185.9 228.8,187.8 232.5,189.0C236.2,190.2 241.2,190.8 245.0,191.0C248.8,191.2 252.1,190.8 255.0,190.0C257.9,189.2 260.0,187.7 262.5,186.0C265.0,184.3 267.9,182.0 270.0,180.0C272.1,178.0 273.7,176.5 275.0,174.0C276.3,171.5 277.5,168.0 278.0,165.0C278.5,162.0 278.5,158.5 278.0,156.0C277.5,153.5 276.3,152.0 275.0,150.0C273.7,148.0 271.8,146.3 270.0,144.0C268.2,141.7 265.8,139.3 264.0,136.0C262.2,132.7 260.5,127.7 259.0,124.0C257.5,120.3 256.3,117.3 255.0,114.0C253.7,110.7 252.5,107.3 251.0,104.0C249.5,100.7 247.6,96.8 246.0,94.0C244.4,91.2 243.0,89.1 241.5,87.0C240.0,84.9 238.4,84.4 237.0,81.6C235.6,78.8 235.2,71.9 233.0,70.0C230.8,68.1 226.2,68.0 224.0,70.0Z"/>
<path d="M340.5,70.0C290.5,72.0 340.5,78.7 340.0,82.0C339.5,85.3 338.5,87.0 337.5,90.0C336.5,93.0 335.4,96.2 334.0,100.0C332.6,103.8 330.9,109.3 329.0,112.5C327.1,115.7 324.2,116.8 322.5,119.0C320.8,121.2 319.8,123.8 319.0,126.0C318.2,128.2 317.8,130.6 318.0,132.5C318.2,134.4 318.8,136.2 320.0,137.5C321.2,138.8 323.2,139.8 325.0,140.0C326.8,140.2 328.9,139.8 331.0,139.0C333.1,138.2 335.3,136.3 337.5,135.5C339.7,134.7 341.9,133.9 344.0,134.0C346.1,134.1 348.0,134.6 350.0,136.0C352.0,137.4 354.2,140.0 356.0,142.5C357.8,145.0 359.5,148.1 361.0,151.0C362.5,153.9 363.7,156.8 365.0,160.0C366.3,163.2 367.8,166.7 369.0,170.0C370.2,173.3 371.2,176.7 372.0,180.0C372.8,183.3 373.3,185.0 374.0,190.0C374.7,195.0 375.0,203.8 376.0,210.0C377.0,216.2 378.5,222.5 380.0,227.5C381.5,232.5 382.9,236.2 385.0,240.0C387.1,243.8 390.0,247.1 392.5,250.0C395.0,252.9 397.8,255.2 400.0,257.5C402.2,259.8 404.2,261.9 406.0,264.0C407.8,266.1 409.5,268.3 411.0,270.0C412.5,271.7 413.1,273.1 415.0,274.0C416.9,274.9 420.0,275.8 422.5,275.5C425.0,275.2 427.9,274.1 430.0,272.5C432.1,270.9 433.5,268.9 435.0,266.0C436.5,263.1 437.8,258.9 439.0,255.0C440.2,251.1 441.5,246.7 442.5,242.5C443.5,238.3 444.5,233.8 445.0,230.0C445.5,226.2 445.5,223.3 445.5,220.0C445.5,216.7 445.5,213.3 445.0,210.0C444.5,206.7 443.5,204.2 442.5,200.0C441.5,195.8 440.2,190.0 439.0,185.0C437.8,180.0 436.0,174.8 435.0,170.0C434.0,165.2 433.4,160.6 433.0,156.0C432.6,151.4 432.6,146.4 432.5,142.5C432.4,138.6 431.9,135.8 432.5,132.5C433.1,129.2 434.3,125.6 436.0,122.5C437.7,119.4 439.8,116.2 442.5,114.0C445.2,111.8 449.2,110.1 452.5,109.5C455.8,108.9 459.6,109.2 462.5,110.5C465.4,111.8 467.1,114.4 470.0,117.0C472.9,119.6 476.8,123.4 480.0,126.0C483.2,128.6 486.3,129.8 489.0,132.5C491.7,135.2 494.0,139.2 496.0,142.5C498.0,145.8 499.7,149.2 501.0,152.5C502.3,155.8 503.4,159.2 504.0,162.5C504.6,165.8 504.8,169.1 504.5,172.5C504.2,175.9 503.4,179.2 502.0,183.0C500.6,186.8 497.7,190.9 496.0,195.0C494.3,199.1 492.3,203.8 492.0,207.5C491.7,211.2 492.8,214.8 494.0,217.5C495.2,220.2 497.2,222.8 499.0,224.0C500.8,225.2 503.2,225.8 505.0,225.0C506.8,224.2 508.5,221.9 510.0,219.0C511.5,216.1 512.8,211.1 514.0,207.5C515.2,203.9 515.8,200.6 517.5,197.5C519.2,194.4 521.5,191.2 524.0,189.0C526.5,186.8 529.7,184.7 532.5,184.0C535.3,183.3 538.2,184.0 541.0,185.0C543.8,186.0 546.7,187.5 549.0,190.0C551.3,192.5 553.0,196.5 555.0,200.0C557.0,203.5 559.2,207.2 561.0,211.0C562.8,214.8 564.1,219.2 566.0,222.5C567.9,225.8 570.2,229.0 572.5,231.0C574.8,233.0 577.1,234.0 580.0,234.5C582.9,235.0 585.8,234.2 590.0,234.0C594.2,233.8 599.8,232.8 605.0,233.0C610.2,233.2 615.2,235.0 621.0,235.5C626.8,236.0 636.8,263.6 640.0,236.0C643.2,208.4 689.9,97.7 640.0,70.0C590.1,42.3 390.5,68.0 340.5,70.0Z"/>
<path d="M321.0,203.5C322.4,203.9 324.8,205.2 326.0,207.5C327.2,209.8 328.0,214.2 328.0,217.5C328.0,220.8 326.9,225.1 326.0,227.5C325.1,229.9 323.9,231.8 322.5,232.0C321.1,232.2 318.9,231.0 317.5,229.0C316.1,227.0 314.5,223.2 314.0,220.0C313.5,216.8 313.9,212.5 314.5,210.0C315.1,207.5 316.4,206.1 317.5,205.0C318.6,203.9 319.6,203.1 321.0,203.5Z"/>
<path d="M157.5,341.0C158.9,341.0 161.2,342.3 162.5,344.0C163.8,345.7 164.8,348.5 165.0,351.0C165.2,353.5 165.0,357.1 164.0,359.0C163.0,360.9 160.5,362.8 159.0,362.5C157.5,362.2 156.1,359.6 155.0,357.5C153.9,355.4 152.7,352.2 152.5,350.0C152.3,347.8 153.2,345.5 154.0,344.0C154.8,342.5 156.1,341.0 157.5,341.0Z"/>
<path d="M220.0,312.0C221.9,312.7 225.7,316.4 227.5,319.0C229.3,321.6 229.9,324.4 231.0,327.5C232.1,330.6 233.8,334.6 234.0,337.5C234.2,340.4 233.6,343.4 232.5,345.0C231.4,346.6 229.4,347.2 227.5,347.0C225.6,346.8 222.7,345.3 221.0,344.0C219.3,342.7 218.3,341.0 217.5,339.0C216.7,337.0 216.4,334.8 216.0,332.0C215.6,329.2 215.0,324.8 215.0,322.0C215.0,319.2 215.2,316.7 216.0,315.0C216.8,313.3 218.1,311.3 220.0,312.0Z"/>
<path d="M563.5,342.5 L566.7,339.5 L570.0,342.5 L566.7,346.0Z"/>
<path d="M208.0,304.0C208.0,303.3 210.0,302.0 211.0,302.0C212.0,302.0 214.0,303.3 214.0,304.0C214.0,304.7 212.0,306.0 211.0,306.0C210.0,306.0 208.0,304.7 208.0,304.0Z"/>
<path d="M125.0,314.0C125.0,313.5 126.3,312.5 127.0,312.5C127.7,312.5 129.0,313.5 129.0,314.0C129.0,314.5 127.7,315.5 127.0,315.5C126.3,315.5 125.0,314.5 125.0,314.0Z"/>
<path d="M246.0,480.0C235.3,477.1 248.5,467.1 250.0,462.5C251.5,457.9 253.2,456.1 255.0,452.5C256.8,448.9 258.9,444.3 261.0,441.0C263.1,437.7 265.2,434.8 267.5,432.5C269.8,430.2 272.5,428.6 275.0,427.5C277.5,426.4 280.0,425.8 282.5,426.0C285.0,426.2 287.8,427.4 290.0,428.7C292.2,430.0 294.2,431.8 296.0,433.7C297.8,435.6 299.1,437.3 301.0,440.0C302.9,442.7 305.6,446.7 307.5,450.0C309.4,453.3 311.5,456.9 312.5,460.0C313.5,463.1 313.4,465.4 313.7,468.7C313.9,472.0 325.3,478.1 314.0,480.0C302.7,481.9 256.7,482.9 246.0,480.0Z"/>
<path d="M419.0,480.0C414.7,478.2 418.9,473.3 419.0,469.0C419.1,464.7 419.0,458.3 419.4,454.0C419.8,449.7 420.4,446.1 421.4,443.3C422.4,440.5 423.7,438.6 425.4,437.2C427.1,435.8 429.5,434.9 431.5,434.9C433.5,434.9 435.9,435.8 437.6,437.2C439.3,438.6 440.6,440.5 441.7,443.3C442.8,446.1 443.5,449.7 444.0,454.0C444.5,458.3 444.6,464.7 444.8,469.0C445.0,473.3 449.3,478.2 445.0,480.0C440.7,481.8 423.3,481.8 419.0,480.0Z"/>
<path d="M227.0,99.0C225.0,99.5 222.7,101.2 221.0,103.0C219.3,104.8 218.0,107.2 217.0,110.0C216.0,112.8 215.3,116.3 215.0,120.0C214.7,123.7 214.7,128.0 215.0,132.0C215.3,136.0 216.0,140.0 217.0,144.0C218.0,148.0 219.5,152.3 221.0,156.0C222.5,159.7 224.2,163.0 226.0,166.0C227.8,169.0 230.0,171.8 232.0,174.0C234.0,176.2 236.0,178.3 238.0,179.5C240.0,180.7 242.0,180.9 244.0,181.0C246.0,181.1 248.3,181.2 250.0,180.0C251.7,178.8 253.2,177.3 254.0,174.0C254.8,170.7 255.3,165.0 255.0,160.0C254.7,155.0 252.8,148.0 252.0,144.0C251.2,140.0 250.8,139.0 250.0,136.0C249.2,133.0 248.2,129.3 247.0,126.0C245.8,122.7 244.5,119.3 243.0,116.0C241.5,112.7 239.7,108.7 238.0,106.0C236.3,103.3 234.8,101.2 233.0,100.0C231.2,98.8 229.0,98.5 227.0,99.0Z"/>
<path d="M360.0,99.5C358.5,100.2 356.9,101.8 356.0,104.0C355.1,106.2 354.5,109.8 354.5,112.5C354.5,115.2 354.9,117.8 356.0,120.0C357.1,122.2 358.8,124.2 361.0,126.0C363.2,127.8 366.5,129.6 369.0,131.0C371.5,132.4 374.0,134.0 376.0,134.5C378.0,135.0 379.8,134.9 381.0,134.0C382.2,133.1 383.0,131.2 383.0,129.0C383.0,126.8 382.2,123.8 381.0,121.0C379.8,118.2 377.8,115.3 376.0,112.5C374.2,109.7 371.8,106.1 370.0,104.0C368.2,101.9 366.7,100.8 365.0,100.0C363.3,99.2 361.5,98.8 360.0,99.5Z"/>
<path d="M387.0,136.0C385.6,136.6 384.7,138.1 384.0,140.0C383.3,141.9 383.0,144.8 383.0,147.5C383.0,150.2 384.0,153.1 384.0,156.0C384.0,158.9 383.2,162.3 383.0,165.0C382.8,167.7 382.8,169.5 383.0,172.0C383.2,174.5 383.2,177.0 384.0,180.0C384.8,183.0 385.8,186.8 387.5,190.0C389.2,193.2 391.9,196.5 394.0,199.0C396.1,201.5 397.8,203.6 400.0,205.0C402.2,206.4 405.2,207.3 407.5,207.5C409.8,207.7 412.4,207.1 414.0,206.0C415.6,204.9 416.5,203.7 417.0,201.0C417.5,198.3 417.3,193.8 417.0,190.0C416.7,186.2 415.8,181.7 415.0,178.0C414.2,174.3 413.3,171.0 412.5,168.0C411.7,165.0 411.2,163.0 410.0,160.0C408.8,157.0 406.8,153.2 405.0,150.0C403.2,146.8 401.1,143.2 399.0,141.0C396.9,138.8 394.5,137.3 392.5,136.5C390.5,135.7 388.4,135.4 387.0,136.0Z"/>
<path d="M507.0,70.0C492.1,72.0 506.8,78.2 507.5,82.0C508.2,85.8 509.7,89.0 511.0,92.5C512.3,96.0 513.8,99.4 515.5,103.0C517.2,106.6 519.0,111.3 521.0,114.0C523.0,116.7 525.0,117.8 527.5,119.0C530.0,120.2 532.9,121.0 536.0,121.0C539.1,121.0 542.8,120.0 546.0,119.0C549.2,118.0 551.8,116.7 555.0,115.0C558.2,113.3 561.7,111.3 565.0,109.0C568.3,106.7 571.8,103.8 575.0,101.0C578.2,98.2 581.5,95.2 584.0,92.5C586.5,89.8 588.6,86.8 590.0,85.0C591.4,83.2 591.3,84.5 592.5,82.0C593.7,79.5 611.2,72.0 597.0,70.0C582.8,68.0 521.9,68.0 507.0,70.0Z"/>
<path d="M288.5,447.5 L296.0,447.0 L296.5,460.0 L294.0,466.0 L290.0,468.0 L286.0,460.0 L287.0,452.0Z"/>
<path d="M229.0,113.5C230.7,113.5 232.7,115.2 234.0,117.0C235.3,118.8 236.5,121.5 237.0,124.0C237.5,126.5 237.5,129.7 237.0,132.0C236.5,134.3 235.0,136.7 234.0,138.0C233.0,139.3 232.2,140.3 231.0,140.0C229.8,139.7 228.2,137.7 227.0,136.0C225.8,134.3 224.8,132.2 224.0,130.0C223.2,127.8 222.4,125.2 222.4,123.0C222.4,120.8 222.9,118.6 224.0,117.0C225.1,115.4 227.3,113.5 229.0,113.5Z"/>
<path d="M205.0,355.0 L206.5,354.0 L207.0,358.0 L206.5,362.0 L205.0,362.0Z"/>
<path d="M229.3,370.6 L230.3,370.6 L230.3,371.8 L229.3,371.8Z"/>
</g>
<g class="ln" shape-rendering="crispEdges">
<path d="M29.5,463.0 L29.5,93.0 L564.0,93.0"/>
<path d="M29.5,462.5 L616.0,462.5"/>
<path d="M29.5,138.0 L120.6,138.0"/>
<path d="M117.0,93.0 L117.0,127.0 L120.6,127.0 L120.6,169.0 L125.0,169.0 L125.0,199.5"/>
<path d="M120.6,148.4 L192.6,148.4 L192.6,169.0 L196.0,169.0 L196.0,210.0 L200.0,210.0 L200.0,232.0"/>
<path d="M172.0,148.4 L172.0,127.6 L178.0,127.6 L178.0,117.6 L187.6,117.6 L187.6,127.6 L202.0,127.6 L202.0,158.0 L262.0,158.0"/>
<path d="M229.6,93.0 L229.6,126.0 L232.4,126.0 L232.4,148.0 L262.0,148.0"/>
<path d="M315.0,147.5 L315.0,139.0 L262.0,139.0 L262.0,166.0 L267.0,166.0 L267.0,211.0 L270.5,211.0 L270.5,232.0"/>
<path d="M315.0,147.5 L427.0,147.5"/>
<path d="M324.8,147.5 L324.8,169.0 L328.5,169.0 L328.5,211.4 L330.4,211.4 L330.4,232.0"/>
<path d="M332.0,93.0 L332.0,127.5 L335.0,127.5 L335.0,147.5"/>
<path d="M383.5,93.0 L383.5,127.5 L386.0,127.5 L386.0,169.0"/>
<path d="M357.7,169.0 L426.0,169.0"/>
<path d="M424.0,93.0 L424.0,127.5 L426.0,127.5 L426.0,169.0"/>
<path d="M426.0,148.5 L570.0,148.5"/>
<path d="M509.0,93.0 L509.0,148.5"/>
<path d="M479.0,148.5 L479.0,191.0"/>
<path d="M571.0,191.0 L470.0,191.0 L470.0,211.0 L462.5,211.0 L462.5,253.0 L589.0,253.0"/>
<path d="M511.0,191.0 L511.0,253.0"/>
<path d="M464.0,253.0 L464.0,296.0"/>
<path d="M505.0,253.0 L505.0,296.0 L506.5,296.0 L506.5,306.0"/>
<path d="M544.5,253.0 L544.5,306.0"/>
<path d="M594.0,306.0 L467.5,306.0 L467.5,337.5 L469.0,337.5 L469.0,379.0"/>
<path d="M527.5,306.0 L527.5,379.0"/>
<path d="M297.5,379.5 L599.0,379.5"/>
<path d="M500.5,379.0 L500.5,422.0"/>
<path d="M354.0,422.0 L561.0,422.0"/>
<path d="M503.0,422.0 L503.0,463.0"/>
<path d="M559.5,379.0 L559.5,422.0 L561.0,422.0 L561.0,456.0 L564.0,456.0 L564.0,463.0"/>
<path d="M354.0,379.0 L354.0,421.5 L356.0,421.5 L356.0,462.5"/>
<path d="M422.5,379.0 L422.5,421.5 L424.0,421.5 L424.0,462.5"/>
<path d="M300.0,296.0 L467.0,296.0 L467.0,306.0"/>
<path d="M341.0,232.0 L341.0,255.0 L344.0,255.0 L344.0,296.0"/>
<path d="M338.0,296.0 L338.0,337.5 L340.5,337.5 L340.5,379.5"/>
<path d="M387.0,296.0 L387.0,337.5 L389.0,337.5 L389.0,379.5"/>
<path d="M159.0,232.0 L462.5,232.0"/>
<path d="M357.7,169.0 L357.7,211.4 L361.4,211.4 L361.4,232.0"/>
<path d="M401.0,232.0 L401.0,255.0 L404.0,255.0 L404.0,264.0 L464.0,264.0"/>
<path d="M95.5,199.5 L131.0,199.5"/>
<path d="M138.7,253.0 L103.4,253.0 L103.4,295.0"/>
<path d="M29.5,295.0 L109.0,295.0 L109.0,337.5"/>
<path d="M59.5,295.0 L59.5,337.5 L64.0,337.5 L64.0,379.5"/>
<path d="M160.0,232.0 L160.0,239.0"/>
<path d="M93.7,379.5 L93.7,337.5 L148.7,337.5 L148.7,334.5 L208.7,334.5"/>
<path d="M29.5,389.5 L48.0,389.5 L48.0,379.5 L186.0,379.5 L186.0,421.0 L190.0,421.0 L190.0,462.5"/>
<path d="M117.0,379.5 L117.0,422.0"/>
<path d="M29.5,422.0 L150.0,422.0 L150.0,431.0 L190.0,431.0"/>
<path d="M111.5,422.0 L111.5,462.5"/>
<path d="M174.0,232.0 L174.0,296.0 L177.5,296.0 L177.5,334.5"/>
<path d="M208.7,337.0 L208.7,306.0 L248.7,306.0"/>
<path d="M208.7,337.0 L275.0,337.0"/>
<path d="M177.5,334.5 L182.3,334.5 L182.3,369.5 L211.4,369.5 L211.4,379.5 L245.0,379.5 L245.0,411.0 L263.7,411.0"/>
<path d="M294.0,296.0 L294.0,253.5 L300.5,253.5 L300.5,232.0"/>
<path d="M325.0,296.0 L288.0,296.0 L288.0,316.0 L271.0,316.0"/>
<path d="M404.0,264.0 L404.0,296.0"/>
</g>
<g class="ln wg">
<path d="M563.5,93.0 L563.4,96.7 L564.4,100.4 L565.4,103.9 L567.5,107.0 L567.7,109.7 L566.5,112.3 L567.2,115.0 L569.2,117.4 L569.5,120.7 L570.4,124.0 L571.1,127.2 L573.3,129.7 L573.8,134.2 L571.9,137.4 L571.2,141.1 L570.2,144.3 L570.2,147.7 L570.2,150.6 L569.1,153.3 L570.1,156.3 L569.8,159.4 L570.1,162.4 L570.7,165.4 L569.3,168.4 L569.9,171.4 L571.2,174.6 L571.8,178.1 L572.5,181.0 L571.4,184.0 L571.5,187.0 L572.4,190.5 L571.8,194.0 L572.7,197.3 L572.5,200.7 L572.9,204.5 L574.5,207.9 L574.6,211.1 L576.0,214.0 L577.1,216.9 L577.3,220.1 L578.9,223.0 L579.1,226.3 L579.8,229.5 L581.2,232.4 L581.4,235.2 L583.3,237.4 L584.2,239.9 L584.8,242.6 L586.6,244.7 L586.6,247.7 L587.9,250.0 L589.1,252.4 L589.0,256.0 L590.8,259.1 L591.0,262.5 L591.1,265.7 L592.7,268.6 L591.9,272.0 L593.0,275.0 L593.7,278.1 L593.1,281.3 L594.8,284.3 L594.4,287.5 L594.2,290.4 L595.0,293.4 L593.6,296.2 L594.5,299.2 L594.2,302.1 L593.8,305.0 L594.9,308.1 L594.0,311.3 L594.8,314.4 L595.1,317.5 L594.6,320.7 L596.1,323.7 L595.6,326.9 L595.9,330.0 L597.4,333.0 L596.9,336.4 L598.5,339.3 L599.1,342.5 L599.8,347.5 L600.4,350.7 L599.1,353.7 L599.1,356.9 L599.2,360.0 L598.5,363.4 L599.8,366.6 L599.5,370.0 L598.8,373.3 L599.9,376.7 L598.8,380.0 L600.1,383.7 L601.1,387.5 L601.0,390.8 L602.9,393.7 L602.9,397.0 L603.2,399.8 L604.2,402.5 L605.2,405.4 L607.6,407.4 L609.3,409.9 L610.3,412.8 L612.7,414.9 L612.4,418.2 L613.2,421.3 L614.1,424.3 L613.8,427.5 L614.9,430.4 L614.7,433.5 L614.8,436.6 L616.3,439.4 L615.8,442.5 L615.9,445.6 L615.8,448.8 L614.6,451.8 L615.2,455.0 L615.0,457.7 L615.5,460.4 L616.2,463.0"/>
<path d="M30.0,216.2 L33.7,216.3 L37.6,218.5 L39.8,217.0 L41.2,214.5 L44.6,217.4 L46.8,215.7 L47.9,212.9 L49.2,210.3 L50.1,207.5 L53.3,209.0 L54.5,206.2 L54.4,203.0 L57.2,201.6 L60.1,200.7 L64.4,198.5 L65.3,201.4 L67.0,203.7 L68.3,206.5 L68.5,209.6 L71.5,210.8 L73.7,213.0 L77.0,212.2 L79.9,210.5 L83.9,210.3 L87.5,208.6 L89.9,207.2 L92.6,206.4 L92.9,203.5 L94.6,201.2 L95.5,199.5"/>
<path d="M131.0,199.5 L131.9,203.7 L137.0,203.5 L137.0,206.7 L138.0,209.5 L140.6,211.3 L142.2,214.1 L145.1,215.6 L143.8,219.0 L142.9,222.5 L141.8,225.6 L139.3,227.9 L138.8,232.5 L138.8,235.4 L138.1,238.4 L139.4,241.3 L138.2,244.2 L138.7,247.1 L139.2,250.1 L138.5,253.0"/>
<path d="M138.7,236.0 L141.7,237.8 L145.1,238.5 L147.3,240.2 L150.0,240.6 L152.5,241.6 L155.5,243.0 L158.7,242.8 L160.6,238.7 L163.3,239.6 L166.2,239.8 L166.5,242.7 L168.1,245.0 L169.5,249.5 L172.4,252.6 L173.6,255.8 L172.9,259.2 L173.7,262.5 L175.1,264.9"/>
<path d="M271.0,316.0 L271.9,319.2 L274.3,321.7 L274.8,325.1 L275.5,328.0 L276.0,331.0 L275.8,334.0 L275.5,337.6 L275.8,340.8 L276.4,343.9 L277.6,346.9 L278.1,350.0 L280.3,352.5 L281.4,355.4 L282.3,358.4 L282.7,361.5 L281.4,364.5 L284.1,366.6 L286.8,368.5 L284.4,371.6 L287.4,372.5 L289.8,374.2 L288.7,376.9 L292.0,376.7 L295.0,378.1 L297.1,382.0 L299.3,383.9 L301.1,386.3 L302.2,391.0 L301.9,394.3 L302.4,397.5 L302.3,401.4 L300.8,405.0 L301.8,408.1 L301.8,411.2 L301.6,414.4 L302.7,417.5 L301.4,420.5 L301.3,423.8 L301.0,427.0 L299.8,430.0 L299.7,433.5 L298.2,436.6 L297.4,440.0 L299.0,443.2 L298.5,446.8 L300.1,450.0 L301.4,452.4 L302.3,455.1 L305.4,455.9 L307.3,458.3 L310.0,459.6 L312.6,460.9 L312.4,464.4 L313.8,467.5"/>
<path d="M263.7,411.0 L263.6,413.9 L265.0,416.7 L264.1,419.7 L265.0,422.5 L262.7,424.6 L259.9,425.8 L259.3,428.8 L257.3,431.0 L256.0,433.5 L255.5,436.4 L253.5,438.6 L251.2,439.5 L248.6,439.7 L246.0,439.8 L244.8,443.1 L242.4,445.4 L239.6,446.3 L236.9,447.6 L233.7,447.2 L231.0,448.9 L228.4,451.1 L225.9,453.6 L223.2,454.4 L220.3,453.1 L217.5,453.8 L214.5,452.7 L211.9,450.6 L208.6,450.2 L206.1,451.0 L203.7,452.5 L201.0,452.3 L198.8,450.3 L196.0,450.6 L193.5,449.5 L191.0,448.6"/>
<path d="M263.7,411.0 L265.0,413.5 L267.6,414.9 L268.6,417.6 L270.2,414.9 L271.5,412.3 L274.0,410.4 L274.8,407.4 L278.4,407.2 L281.7,406.8 L285.0,405.8 L287.3,407.5 L290.1,407.5 L292.5,408.7 L295.3,408.0 L297.2,405.6 L300.1,405.1"/>
<path d="M174.0,265.0 L175.9,266.1 L179.0,266.0 L181.6,267.9 L184.7,267.9 L187.5,268.6 L189.7,270.6 L192.8,270.7 L195.0,272.6 L197.8,273.4 L200.9,273.2 L203.7,274.7 L206.5,273.0 L209.5,272.0 L212.6,271.2 L215.7,269.6 L219.3,269.9 L222.5,268.7 L225.3,268.0 L228.2,268.9 L231.0,267.8 L234.2,270.1 L237.4,272.1 L236.9,275.6 L234.8,278.6 L236.0,281.6 L236.9,284.5 L237.3,287.6 L239.3,289.7 L239.5,292.6 L241.0,295.0 L243.2,297.2 L243.8,300.4 L246.1,302.4 L248.7,306.0"/>
<path d="M414.5,169.0 L414.4,171.8 L415.9,174.4 L415.1,177.3 L416.0,180.0 L416.6,183.0 L415.7,186.0 L417.2,189.0 L416.6,192.0 L416.9,195.0 L418.4,198.0 L417.9,201.4 L419.6,204.3 L420.0,207.5 L422.2,209.3 L425.1,209.8 L425.9,215.0 L428.0,213.0 L429.9,210.9 L433.1,211.2 L436.0,209.8 L437.9,212.1 L439.9,214.1 L443.2,214.4 L445.9,216.2 L450.0,218.9 L452.2,221.3 L453.8,224.1 L456.8,223.3 L459.7,224.3 L462.5,224.1"/>
</g>
<g class="lb">
<g transform="translate(57,107) rotate(-85)"><rect x="-12" y="-1.3" width="24" height="2.6" fill="#0000ff"/><text x="0" y="4.4" transform="scale(0.9,1)">300</text></g>
<g transform="translate(112,99) rotate(-65)"><rect x="-12" y="-1.3" width="24" height="2.6" fill="#ff00ff"/><text x="0" y="4.4" transform="scale(0.9,1)">300</text></g>
<g transform="translate(105,162) rotate(85)"><rect x="-12" y="-1.3" width="24" height="2.6" fill="#00ffff"/><text x="0" y="4.4" transform="scale(0.9,1)">250</text></g>
<g transform="translate(186.5,100.5) rotate(78)"><rect x="-12" y="-1.3" width="24" height="2.6" fill="#00ffff"/><text x="0" y="4.4" transform="scale(0.9,1)">250</text></g>
<g transform="translate(199,103) rotate(-90)"><rect x="-12" y="-1.3" width="24" height="2.6" fill="#00ff00"/><text x="0" y="4.4" transform="scale(0.9,1)">200</text></g>
<g transform="translate(211,102) rotate(-80)"><rect x="-12" y="-1.3" width="24" height="2.6" fill="#ffff00"/><text x="0" y="4.4" transform="scale(0.9,1)">150</text></g>
<g transform="translate(46,241) rotate(3)"><rect x="-12" y="-1.3" width="24" height="2.6" fill="#ff00ff"/><text x="0" y="4.4" transform="scale(0.9,1)">300</text></g>
<g transform="translate(157.5,197.5) rotate(55)"><rect x="-12" y="-1.3" width="24" height="2.6" fill="#00ffff"/><text x="0" y="4.4" transform="scale(0.9,1)">200</text></g>
<g transform="translate(82.5,292.5) rotate(20)"><rect x="-12" y="-1.3" width="24" height="2.6" fill="#00ffff"/><text x="0" y="4.4" transform="scale(0.9,1)">250</text></g>
<g transform="translate(147,286) rotate(0)"><rect x="-12" y="-1.3" width="24" height="2.6" fill="#00ff00"/><text x="0" y="4.4" transform="scale(0.9,1)">200</text></g>
<g transform="translate(41,373.7) rotate(45)"><rect x="-12" y="-1.3" width="24" height="2.6" fill="#00ffff"/><text x="0" y="4.4" transform="scale(0.9,1)">200</text></g>
<g transform="translate(67,362.4) rotate(70)"><rect x="-12" y="-1.3" width="24" height="2.6" fill="#ffff00"/><text x="0" y="4.4" transform="scale(0.9,1)">150</text></g>
<g transform="translate(47.5,412.5) rotate(75)"><rect x="-12" y="-1.3" width="24" height="2.6" fill="#00ffff"/><text x="0" y="4.4" transform="scale(0.9,1)">250</text></g>
<g transform="translate(199,438.7) rotate(-5)"><rect x="-12" y="-1.3" width="24" height="2.6" fill="#ffff00"/><text x="0" y="4.4" transform="scale(0.9,1)">150</text></g>
<g transform="translate(326,451) rotate(60)"><rect x="-12" y="-1.3" width="24" height="2.6" fill="#ffff00"/><text x="0" y="4.4" transform="scale(0.9,1)">150</text></g>
<g transform="translate(307.5,450) rotate(60)"><rect x="-12" y="-1.3" width="24" height="2.6" fill="#ffcc00"/><text x="0" y="4.4" transform="scale(0.9,1)">100</text></g>
<g transform="translate(466,430) rotate(45)"><rect x="-12" y="-1.3" width="24" height="2.6" fill="#ffff00"/><text x="0" y="4.4" transform="scale(0.9,1)">150</text></g>
<g transform="translate(254.7,207) rotate(-10)"><rect x="-12" y="-1.3" width="24" height="2.6" fill="#00ffff"/><text x="0" y="4.4" transform="scale(0.9,1)">200</text></g>
<g transform="translate(250.5,325) rotate(75)"><rect x="-12" y="-1.3" width="24" height="2.6" fill="#00ffff"/><text x="0" y="4.4" transform="scale(0.9,1)">200</text></g>
<g transform="translate(260,289) rotate(-65)"><rect x="-12" y="-1.3" width="24" height="2.6" fill="#0000ff"/><text x="0" y="4.4" transform="scale(0.9,1)">250</text></g>
<g transform="translate(320,411) rotate(45)"><rect x="-12" y="-1.3" width="24" height="2.6" fill="#00ffff"/><text x="0" y="4.4" transform="scale(0.9,1)">200</text></g>
<g transform="translate(444,387) rotate(-40)"><rect x="-12" y="-1.3" width="24" height="2.6" fill="#00ffff"/><text x="0" y="4.4" transform="scale(0.9,1)">200</text></g>
<g transform="translate(395,291) rotate(-35)"><rect x="-12" y="-1.3" width="24" height="2.6" fill="#00ffff"/><text x="0" y="4.4" transform="scale(0.9,1)">200</text></g>
<g transform="translate(309,346.5) rotate(0)"><rect x="-12" y="-1.3" width="24" height="2.6" fill="#00ffff"/><text x="0" y="4.4" transform="scale(0.9,1)">200</text></g>
<g transform="translate(312.5,312.5) rotate(-60)"><rect x="-12" y="-1.3" width="24" height="2.6" fill="#ffff00"/><text x="0" y="4.4" transform="scale(0.9,1)">150</text></g>
<g transform="translate(358,171) rotate(80)"><rect x="-12" y="-1.3" width="24" height="2.6" fill="#00ffff"/><text x="0" y="4.4" transform="scale(0.9,1)">200</text></g>
<g transform="translate(452.5,180) rotate(60)"><rect x="-12" y="-1.3" width="24" height="2.6" fill="#00ffff"/><text x="0" y="4.4" transform="scale(0.9,1)">200</text></g>
<g transform="translate(550,299) rotate(22)"><rect x="-12" y="-1.3" width="24" height="2.6" fill="#00ffff"/><text x="0" y="4.4" transform="scale(0.9,1)">200</text></g>
<g transform="translate(521,448.7) rotate(-60)"><rect x="-12" y="-1.3" width="24" height="2.6" fill="#00ffff"/><text x="0" y="4.4" transform="scale(0.9,1)">200</text></g>
<g transform="translate(296,100) rotate(-50)"><rect x="-12" y="-1.3" width="24" height="2.6" fill="#00ffff"/><text x="0" y="4.4" transform="scale(0.9,1)">200</text></g>
<g transform="translate(278,165) rotate(90)"><rect x="-12" y="-1.3" width="24" height="2.6" fill="#ffff00"/><text x="0" y="4.4" transform="scale(0.9,1)">150</text></g>
<g transform="translate(255,160) rotate(90)"><rect x="-12" y="-1.3" width="24" height="2.6" fill="#ffcc00"/><text x="0" y="4.4" transform="scale(0.9,1)">100</text></g>
<g transform="translate(334,100) rotate(-65)"><rect x="-12" y="-1.3" width="24" height="2.6" fill="#ffff00"/><text x="0" y="4.4" transform="scale(0.9,1)">150</text></g>
<g transform="translate(376,210) rotate(80)"><rect x="-12" y="-1.3" width="24" height="2.6" fill="#ffff00"/><text x="0" y="4.4" transform="scale(0.9,1)">150</text></g>
<g transform="translate(445,214) rotate(85)"><rect x="-12" y="-1.3" width="24" height="2.6" fill="#ffff00"/><text x="0" y="4.4" transform="scale(0.9,1)">150</text></g>
<g transform="translate(496,142.5) rotate(55)"><rect x="-12" y="-1.3" width="24" height="2.6" fill="#ffff00"/><text x="0" y="4.4" transform="scale(0.9,1)">150</text></g>
<g transform="translate(555,200) rotate(50)"><rect x="-12" y="-1.3" width="24" height="2.6" fill="#ffff00"/><text x="0" y="4.4" transform="scale(0.9,1)">150</text></g>
<g transform="translate(416,189) rotate(85)"><rect x="-12" y="-1.3" width="24" height="2.6" fill="#ffcc00"/><text x="0" y="4.4" transform="scale(0.9,1)">100</text></g>
<g transform="translate(515.5,101) rotate(60)"><rect x="-12" y="-1.3" width="24" height="2.6" fill="#ffcc00"/><text x="0" y="4.4" transform="scale(0.9,1)">100</text></g>
<g transform="translate(399,384) rotate(25)"><rect x="-12" y="-1.3" width="24" height="2.6" fill="#0000ff"/><text x="0" y="4.4" transform="scale(0.9,1)">250</text></g>
<g transform="translate(176,349) rotate(-88)"><rect x="-12" y="-1.3" width="24" height="2.6" fill="#00ffff"/><text x="0" y="4.4" transform="scale(0.9,1)">250</text></g>
<g transform="translate(201,341) rotate(90)"><rect x="-12" y="-1.3" width="24" height="2.6" fill="#00ff00"/><text x="0" y="4.4" transform="scale(0.9,1)">200</text></g>
<g transform="translate(217.5,325) rotate(-85)"><rect x="-12" y="-1.3" width="24" height="2.6" fill="#ffff00"/><text x="0" y="4.4" transform="scale(0.9,1)">150</text></g>
</g>
</g>
<g class="lg">
<rect x="627.5" y="151.5" width="16.2" height="33.3" fill="#9900cc"/>
<rect x="627.5" y="184.6" width="16.2" height="33.3" fill="#ff00ff"/>
<rect x="627.5" y="217.7" width="16.2" height="33.3" fill="#0000ff"/>
<rect x="627.5" y="250.8" width="16.2" height="33.3" fill="#00ffff"/>
<rect x="627.5" y="283.9" width="16.2" height="33.3" fill="#00ff00"/>
<rect x="627.5" y="317.0" width="16.2" height="33.3" fill="#ffff00"/>
<rect x="627.5" y="350.1" width="16.2" height="33.3" fill="#ffcc00"/>
<rect x="627.5" y="383.2" width="16.2" height="33.3" fill="#ff0000"/>
<rect x="627.5" y="151.5" width="16.2" height="264.8" fill="none" stroke="#222" stroke-width="1" shape-rendering="crispEdges"/>
<path d="M627.5,184.6 H643.7" stroke="#000" stroke-width="1" shape-rendering="crispEdges"/>
<path d="M627.5,217.7 H643.7" stroke="#000" stroke-width="1" shape-rendering="crispEdges"/>
<path d="M627.5,250.8 H643.7" stroke="#000" stroke-width="1" shape-rendering="crispEdges"/>
<path d="M627.5,283.9 H643.7" stroke="#000" stroke-width="1" shape-rendering="crispEdges"/>
<path d="M627.5,317.0 H643.7" stroke="#000" stroke-width="1" shape-rendering="crispEdges"/>
<path d="M627.5,350.1 H643.7" stroke="#000" stroke-width="1" shape-rendering="crispEdges"/>
<path d="M627.5,383.2 H643.7" stroke="#000" stroke-width="1" shape-rendering="crispEdges"/>
<text x="647" y="156.7">300</text>
<text x="647" y="189.8">350</text>
<text x="647" y="222.9">300</text>
<text x="647" y="256.0">250</text>
<text x="647" y="289.1">200</text>
<text x="647" y="322.2">150</text>
<text x="647" y="355.3">100</text>
<text x="647" y="388.4">50</text>
<text x="647" y="421.5">0</text>
</g>
</svg>
</body></html>
